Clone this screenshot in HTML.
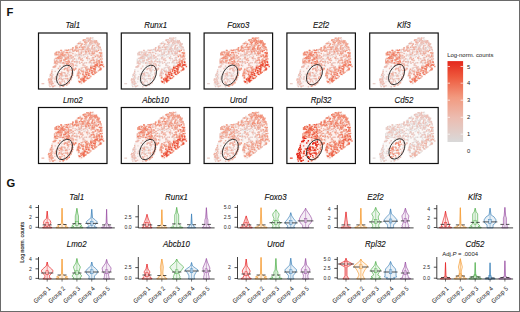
<!DOCTYPE html>
<html><head><meta charset="utf-8"><style>html,body{margin:0;padding:0;background:#fff;overflow:hidden;}svg{display:block;}</style></head>
<body>
<svg width="520" height="312" viewBox="0 0 520 312">
<defs>
<path id="blob" d="M16.2,23.0C16.4,21.4 16.4,20.3 16.8,19.4C17.2,18.5 17.7,18.2 18.8,17.8C19.9,17.4 21.9,17.3 23.5,17.2C25.1,17.1 26.9,17.2 28.3,17.0C29.7,16.8 30.9,16.5 32.0,16.0C33.1,15.5 34.2,14.5 35.1,13.8C36.0,13.1 36.1,12.7 37.3,11.8C38.5,10.9 40.5,9.4 42.1,8.4C43.7,7.4 45.5,6.3 46.9,5.6C48.3,4.9 49.4,4.3 50.7,4.2C52.0,4.1 53.5,4.2 54.6,4.7C55.7,5.2 56.5,6.1 57.5,7.0C58.5,7.9 59.6,8.8 60.4,10.0C61.2,11.2 61.8,12.5 62.3,13.9C62.8,15.3 63.0,16.9 63.2,18.7C63.5,20.5 63.6,22.8 63.8,24.5C64.0,26.2 64.4,27.4 64.6,28.8C64.8,30.2 65.4,31.5 65.2,32.8C65.0,34.0 64.8,35.1 63.6,36.3C62.4,37.5 59.8,38.8 58.0,40.0C56.2,41.2 54.6,42.4 53.0,43.6C51.4,44.8 49.8,46.1 48.5,47.2C47.2,48.3 46.0,49.4 45.0,50.2C44.0,51.0 43.4,51.9 42.6,52.0C41.8,52.1 40.9,51.8 40.3,51.0C39.7,50.2 39.2,48.5 38.8,47.0C38.4,45.5 38.2,43.4 38.0,42.0C37.8,40.6 37.9,39.4 37.6,38.5C37.3,37.6 36.8,36.4 36.4,36.6C36.0,36.9 35.6,38.6 35.2,40.0C34.8,41.4 34.5,43.3 33.8,45.0C33.1,46.7 32.2,48.6 31.0,50.0C29.8,51.4 28.2,52.5 26.5,53.2C24.8,53.9 22.5,54.1 20.5,54.2C18.5,54.3 16.1,54.1 14.4,54.0C12.7,53.9 11.3,54.0 10.4,53.4C9.5,52.8 9.1,51.9 9.2,50.3C9.3,48.7 10.2,46.4 11.0,44.0C11.8,41.6 13.1,38.5 13.8,36.0C14.5,33.5 15.0,31.2 15.4,29.0C15.8,26.8 16.0,24.6 16.2,23.0Z"/>
<path id="p_CEN_0" d="M40.8,22.9h1.4v1.4h-1.4zM44.4,21.7h1.4v1.4h-1.4zM37.7,32.6h1.4v1.4h-1.4zM32.2,28.0h1.4v1.4h-1.4zM30.5,29.2h1.4v1.4h-1.4zM36.5,21.9h1.4v1.4h-1.4zM35.8,27.9h1.4v1.4h-1.4zM44.1,26.7h1.4v1.4h-1.4zM36.9,27.5h1.4v1.4h-1.4zM37.6,27.1h1.4v1.4h-1.4zM41.9,20.2h1.4v1.4h-1.4zM46.1,22.7h1.4v1.4h-1.4zM37.4,25.5h1.4v1.4h-1.4zM40.7,29.5h1.4v1.4h-1.4zM38.3,22.4h1.4v1.4h-1.4zM39.3,21.5h1.4v1.4h-1.4zM38.0,31.7h1.4v1.4h-1.4zM40.8,22.5h1.4v1.4h-1.4zM31.0,31.2h1.4v1.4h-1.4zM37.7,29.7h1.4v1.4h-1.4zM29.7,32.4h1.4v1.4h-1.4zM41.2,21.3h1.4v1.4h-1.4zM41.1,18.9h1.4v1.4h-1.4zM49.5,24.7h1.4v1.4h-1.4zM50.8,28.1h1.4v1.4h-1.4zM38.4,28.7h1.4v1.4h-1.4zM30.5,28.9h1.4v1.4h-1.4zM50.0,29.1h1.4v1.4h-1.4zM49.6,20.1h1.4v1.4h-1.4zM31.9,30.0h1.4v1.4h-1.4zM49.6,20.1h1.4v1.4h-1.4zM39.8,23.8h1.4v1.4h-1.4z"/>
<path id="p_CEN_1" d="M51.6,32.1h1.4v1.4h-1.4zM47.6,33.2h1.4v1.4h-1.4zM52.1,30.0h1.4v1.4h-1.4zM45.0,29.7h1.4v1.4h-1.4zM33.9,32.6h1.4v1.4h-1.4zM31.2,23.8h1.4v1.4h-1.4zM41.1,24.4h1.4v1.4h-1.4zM50.6,19.3h1.4v1.4h-1.4zM31.2,25.0h1.4v1.4h-1.4zM36.0,20.4h1.4v1.4h-1.4zM32.2,32.1h1.4v1.4h-1.4zM31.6,24.2h1.4v1.4h-1.4zM48.4,26.3h1.4v1.4h-1.4zM48.0,21.2h1.4v1.4h-1.4zM34.0,30.8h1.4v1.4h-1.4zM42.5,22.0h1.4v1.4h-1.4zM37.3,29.2h1.4v1.4h-1.4zM45.7,29.1h1.4v1.4h-1.4zM50.2,28.8h1.4v1.4h-1.4zM33.6,25.5h1.4v1.4h-1.4zM44.9,23.4h1.4v1.4h-1.4zM34.1,26.3h1.4v1.4h-1.4zM40.8,20.8h1.4v1.4h-1.4zM35.1,25.2h1.4v1.4h-1.4zM47.2,18.9h1.4v1.4h-1.4zM43.9,30.0h1.4v1.4h-1.4zM39.3,21.0h1.4v1.4h-1.4z"/>
<path id="p_CEN_2" d="M40.6,29.6h1.4v1.4h-1.4zM47.3,29.1h1.4v1.4h-1.4zM39.6,19.3h1.4v1.4h-1.4zM50.7,28.5h1.4v1.4h-1.4zM35.9,22.2h1.4v1.4h-1.4zM44.2,21.0h1.4v1.4h-1.4zM44.7,31.5h1.4v1.4h-1.4zM39.4,25.0h1.4v1.4h-1.4zM50.3,25.1h1.4v1.4h-1.4zM31.8,18.9h1.4v1.4h-1.4zM45.8,20.6h1.4v1.4h-1.4zM48.3,24.5h1.4v1.4h-1.4zM31.8,30.3h1.4v1.4h-1.4zM47.6,19.2h1.4v1.4h-1.4zM48.6,22.8h1.4v1.4h-1.4zM46.6,19.1h1.4v1.4h-1.4zM40.8,20.6h1.4v1.4h-1.4zM51.2,26.8h1.4v1.4h-1.4zM46.0,32.3h1.4v1.4h-1.4zM33.8,32.7h1.4v1.4h-1.4zM33.7,23.5h1.4v1.4h-1.4zM37.5,21.2h1.4v1.4h-1.4zM49.9,18.5h1.4v1.4h-1.4zM46.6,20.0h1.4v1.4h-1.4zM43.8,31.6h1.4v1.4h-1.4zM44.1,30.5h1.4v1.4h-1.4z"/>
<path id="p_CEN_3" d="M33.4,30.9h1.4v1.4h-1.4zM31.6,21.5h1.4v1.4h-1.4zM36.7,31.5h1.4v1.4h-1.4zM33.5,30.0h1.4v1.4h-1.4zM40.2,20.9h1.4v1.4h-1.4zM43.0,24.8h1.4v1.4h-1.4zM42.6,28.7h1.4v1.4h-1.4zM35.8,28.2h1.4v1.4h-1.4zM34.4,31.6h1.4v1.4h-1.4zM32.5,24.3h1.4v1.4h-1.4zM31.5,22.4h1.4v1.4h-1.4zM42.2,18.3h1.4v1.4h-1.4zM51.7,32.8h1.4v1.4h-1.4zM40.5,24.0h1.4v1.4h-1.4zM40.1,28.2h1.4v1.4h-1.4zM35.5,25.2h1.4v1.4h-1.4zM47.8,24.6h1.4v1.4h-1.4zM42.0,26.3h1.4v1.4h-1.4zM40.0,23.6h1.4v1.4h-1.4zM42.0,25.9h1.4v1.4h-1.4zM30.5,18.8h1.4v1.4h-1.4zM33.4,27.2h1.4v1.4h-1.4zM37.8,28.1h1.4v1.4h-1.4zM32.8,27.8h1.4v1.4h-1.4zM47.4,24.0h1.4v1.4h-1.4zM35.1,28.2h1.4v1.4h-1.4zM50.4,20.1h1.4v1.4h-1.4zM51.0,28.3h1.4v1.4h-1.4zM41.3,25.8h1.4v1.4h-1.4zM31.7,29.8h1.4v1.4h-1.4zM43.5,26.8h1.4v1.4h-1.4zM52.0,21.6h1.4v1.4h-1.4zM33.7,19.9h1.4v1.4h-1.4zM34.1,23.2h1.4v1.4h-1.4zM32.4,22.1h1.4v1.4h-1.4zM35.1,28.1h1.4v1.4h-1.4zM42.2,19.8h1.4v1.4h-1.4zM32.1,32.0h1.4v1.4h-1.4z"/>
<path id="p_ELL_0" d="M28.1,48.3h1.4v1.4h-1.4zM22.7,45.4h1.4v1.4h-1.4zM25.8,39.9h1.4v1.4h-1.4zM22.7,40.2h1.4v1.4h-1.4zM25.4,44.9h1.4v1.4h-1.4zM27.7,41.6h1.4v1.4h-1.4zM22.7,35.7h1.4v1.4h-1.4zM19.0,41.9h1.4v1.4h-1.4zM25.5,35.0h1.4v1.4h-1.4zM21.4,40.4h1.4v1.4h-1.4zM25.3,40.2h1.4v1.4h-1.4zM21.8,44.8h1.4v1.4h-1.4zM27.7,35.0h1.4v1.4h-1.4zM25.3,35.5h1.4v1.4h-1.4zM22.8,38.9h1.4v1.4h-1.4zM29.4,45.6h1.4v1.4h-1.4zM19.5,45.9h1.4v1.4h-1.4zM21.9,45.9h1.4v1.4h-1.4zM24.9,41.9h1.4v1.4h-1.4zM23.2,42.3h1.4v1.4h-1.4zM28.4,39.9h1.4v1.4h-1.4zM24.0,42.2h1.4v1.4h-1.4zM26.8,42.2h1.4v1.4h-1.4zM29.5,38.2h1.4v1.4h-1.4zM21.0,41.7h1.4v1.4h-1.4z"/>
<path id="p_ELL_1" d="M22.3,38.3h1.4v1.4h-1.4zM22.0,40.9h1.4v1.4h-1.4zM28.0,45.0h1.4v1.4h-1.4zM28.2,42.1h1.4v1.4h-1.4zM24.3,45.3h1.4v1.4h-1.4zM22.5,42.8h1.4v1.4h-1.4zM23.0,46.0h1.4v1.4h-1.4zM25.9,39.3h1.4v1.4h-1.4zM26.0,39.5h1.4v1.4h-1.4zM25.6,49.0h1.4v1.4h-1.4zM30.1,41.2h1.4v1.4h-1.4zM28.0,42.6h1.4v1.4h-1.4zM17.9,47.2h1.4v1.4h-1.4zM28.6,39.4h1.4v1.4h-1.4zM31.0,36.0h1.4v1.4h-1.4zM28.9,36.9h1.4v1.4h-1.4zM23.0,38.8h1.4v1.4h-1.4zM21.4,49.4h1.4v1.4h-1.4zM21.7,43.7h1.4v1.4h-1.4zM26.8,45.0h1.4v1.4h-1.4zM18.5,41.2h1.4v1.4h-1.4zM28.2,33.8h1.4v1.4h-1.4z"/>
<path id="p_ELL_2" d="M26.5,34.7h1.4v1.4h-1.4zM26.8,41.3h1.4v1.4h-1.4zM21.2,49.5h1.4v1.4h-1.4zM28.4,35.8h1.4v1.4h-1.4zM29.1,37.9h1.4v1.4h-1.4zM29.6,36.5h1.4v1.4h-1.4zM26.6,44.7h1.4v1.4h-1.4zM27.1,42.0h1.4v1.4h-1.4zM18.7,40.5h1.4v1.4h-1.4zM21.5,40.5h1.4v1.4h-1.4zM20.3,48.6h1.4v1.4h-1.4zM28.3,36.7h1.4v1.4h-1.4zM19.4,45.9h1.4v1.4h-1.4zM22.1,45.0h1.4v1.4h-1.4zM28.5,46.6h1.4v1.4h-1.4zM20.1,49.4h1.4v1.4h-1.4zM22.8,48.1h1.4v1.4h-1.4z"/>
<path id="p_ELL_3" d="M20.2,44.5h1.4v1.4h-1.4zM21.6,40.0h1.4v1.4h-1.4zM28.4,44.8h1.4v1.4h-1.4zM24.8,38.9h1.4v1.4h-1.4zM20.6,39.9h1.4v1.4h-1.4zM29.8,33.1h1.4v1.4h-1.4zM22.1,41.4h1.4v1.4h-1.4zM22.8,41.4h1.4v1.4h-1.4zM25.0,47.4h1.4v1.4h-1.4zM25.1,35.8h1.4v1.4h-1.4zM23.2,46.2h1.4v1.4h-1.4zM26.1,34.8h1.4v1.4h-1.4zM20.7,48.4h1.4v1.4h-1.4zM26.4,42.4h1.4v1.4h-1.4zM22.4,39.5h1.4v1.4h-1.4zM28.2,36.8h1.4v1.4h-1.4zM20.4,42.4h1.4v1.4h-1.4zM22.4,40.8h1.4v1.4h-1.4zM21.5,50.1h1.4v1.4h-1.4zM25.3,35.2h1.4v1.4h-1.4zM27.9,35.1h1.4v1.4h-1.4zM29.8,34.0h1.4v1.4h-1.4z"/>
<path id="p_LT_0" d="M15.6,48.2h1.4v1.4h-1.4zM12.2,46.8h1.4v1.4h-1.4zM14.5,52.4h1.4v1.4h-1.4zM16.9,43.3h1.4v1.4h-1.4zM10.7,42.8h1.4v1.4h-1.4zM13.0,41.7h1.4v1.4h-1.4zM13.2,52.3h1.4v1.4h-1.4zM12.4,47.5h1.4v1.4h-1.4zM12.9,38.6h1.4v1.4h-1.4zM13.7,43.9h1.4v1.4h-1.4zM17.6,40.7h1.4v1.4h-1.4zM11.8,44.8h1.4v1.4h-1.4zM12.9,35.9h1.4v1.4h-1.4zM12.8,48.0h1.4v1.4h-1.4zM20.5,33.4h1.4v1.4h-1.4zM10.3,49.9h1.4v1.4h-1.4zM11.2,40.8h1.4v1.4h-1.4z"/>
<path id="p_LT_1" d="M13.5,44.9h1.4v1.4h-1.4zM10.9,50.1h1.4v1.4h-1.4zM15.5,33.7h1.4v1.4h-1.4zM16.8,45.3h1.4v1.4h-1.4zM12.5,51.5h1.4v1.4h-1.4zM16.0,37.7h1.4v1.4h-1.4zM11.4,41.6h1.4v1.4h-1.4zM16.1,43.9h1.4v1.4h-1.4zM12.7,39.6h1.4v1.4h-1.4zM11.5,45.9h1.4v1.4h-1.4zM10.3,51.4h1.4v1.4h-1.4zM12.5,50.4h1.4v1.4h-1.4zM13.7,41.1h1.4v1.4h-1.4z"/>
<path id="p_LT_2" d="M15.8,45.3h1.4v1.4h-1.4zM15.4,29.5h1.4v1.4h-1.4zM16.3,29.5h1.4v1.4h-1.4zM14.1,33.5h1.4v1.4h-1.4zM16.6,43.0h1.4v1.4h-1.4zM10.8,52.9h1.4v1.4h-1.4zM15.8,32.1h1.4v1.4h-1.4zM13.1,49.3h1.4v1.4h-1.4zM10.5,48.6h1.4v1.4h-1.4zM14.0,49.8h1.4v1.4h-1.4zM12.4,41.5h1.4v1.4h-1.4zM15.7,32.9h1.4v1.4h-1.4zM9.7,45.3h1.4v1.4h-1.4zM13.3,52.9h1.4v1.4h-1.4zM13.7,53.1h1.4v1.4h-1.4zM16.6,29.9h1.4v1.4h-1.4zM15.3,29.5h1.4v1.4h-1.4zM11.7,49.0h1.4v1.4h-1.4zM10.1,47.5h1.4v1.4h-1.4zM15.6,52.0h1.4v1.4h-1.4zM20.8,53.0h1.4v1.4h-1.4z"/>
<path id="p_LT_3" d="M10.4,49.1h1.4v1.4h-1.4zM19.2,34.8h1.4v1.4h-1.4zM12.2,46.0h1.4v1.4h-1.4zM10.1,48.5h1.4v1.4h-1.4zM11.1,47.4h1.4v1.4h-1.4zM9.3,46.4h1.4v1.4h-1.4zM10.6,45.4h1.4v1.4h-1.4zM9.8,45.6h1.4v1.4h-1.4zM20.8,32.4h1.4v1.4h-1.4zM15.2,33.1h1.4v1.4h-1.4zM14.3,33.2h1.4v1.4h-1.4zM12.2,39.6h1.4v1.4h-1.4zM11.9,44.4h1.4v1.4h-1.4zM18.2,30.2h1.4v1.4h-1.4zM12.8,43.1h1.4v1.4h-1.4zM14.0,52.7h1.4v1.4h-1.4zM16.7,32.2h1.4v1.4h-1.4zM12.7,37.5h1.4v1.4h-1.4zM11.3,41.3h1.4v1.4h-1.4zM16.8,30.0h1.4v1.4h-1.4zM12.7,47.7h1.4v1.4h-1.4zM12.1,50.7h1.4v1.4h-1.4zM13.0,49.8h1.4v1.4h-1.4zM16.0,32.9h1.4v1.4h-1.4z"/>
<path id="p_RE_0" d="M57.1,17.4h1.4v1.4h-1.4zM62.7,21.3h1.4v1.4h-1.4zM59.8,28.1h1.4v1.4h-1.4zM62.5,28.1h1.4v1.4h-1.4zM61.3,19.4h1.4v1.4h-1.4zM58.5,26.3h1.4v1.4h-1.4zM61.2,20.2h1.4v1.4h-1.4zM62.0,17.1h1.4v1.4h-1.4zM60.6,25.5h1.4v1.4h-1.4zM57.2,27.6h1.4v1.4h-1.4zM57.4,27.9h1.4v1.4h-1.4zM55.5,21.4h1.4v1.4h-1.4zM57.8,25.2h1.4v1.4h-1.4zM58.8,24.2h1.4v1.4h-1.4zM56.0,17.7h1.4v1.4h-1.4zM61.8,21.3h1.4v1.4h-1.4zM58.0,27.3h1.4v1.4h-1.4zM62.1,26.8h1.4v1.4h-1.4z"/>
<path id="p_RE_1" d="M57.4,16.8h1.4v1.4h-1.4zM62.5,23.0h1.4v1.4h-1.4zM57.3,25.9h1.4v1.4h-1.4zM58.3,22.6h1.4v1.4h-1.4zM62.6,22.4h1.4v1.4h-1.4zM57.3,21.3h1.4v1.4h-1.4zM61.6,20.6h1.4v1.4h-1.4zM59.1,22.8h1.4v1.4h-1.4zM57.3,29.0h1.4v1.4h-1.4zM59.9,28.2h1.4v1.4h-1.4zM55.4,29.3h1.4v1.4h-1.4z"/>
<path id="p_RE_2" d="M59.3,26.9h1.4v1.4h-1.4zM57.5,27.6h1.4v1.4h-1.4zM62.6,28.0h1.4v1.4h-1.4zM63.0,25.2h1.4v1.4h-1.4zM56.8,28.8h1.4v1.4h-1.4zM60.0,26.9h1.4v1.4h-1.4zM61.8,23.2h1.4v1.4h-1.4zM60.1,23.6h1.4v1.4h-1.4z"/>
<path id="p_RE_3" d="M55.7,17.2h1.4v1.4h-1.4zM61.3,21.7h1.4v1.4h-1.4zM61.0,22.5h1.4v1.4h-1.4zM59.3,16.6h1.4v1.4h-1.4zM60.1,27.1h1.4v1.4h-1.4zM60.7,19.1h1.4v1.4h-1.4zM56.3,22.8h1.4v1.4h-1.4zM61.5,25.4h1.4v1.4h-1.4zM60.2,19.2h1.4v1.4h-1.4zM61.9,19.5h1.4v1.4h-1.4zM57.8,28.4h1.4v1.4h-1.4zM57.8,17.8h1.4v1.4h-1.4zM62.3,27.9h1.4v1.4h-1.4zM59.7,26.9h1.4v1.4h-1.4zM62.5,19.3h1.4v1.4h-1.4zM58.7,21.4h1.4v1.4h-1.4z"/>
<path id="p_RL_0" d="M53.4,38.6h1.4v1.4h-1.4zM54.8,40.8h1.4v1.4h-1.4zM63.7,30.7h1.4v1.4h-1.4zM49.3,35.7h1.4v1.4h-1.4zM46.9,38.4h1.4v1.4h-1.4zM43.3,45.2h1.4v1.4h-1.4zM49.8,44.7h1.4v1.4h-1.4zM40.9,48.2h1.4v1.4h-1.4zM58.7,30.7h1.4v1.4h-1.4zM45.0,44.8h1.4v1.4h-1.4zM39.4,43.8h1.4v1.4h-1.4zM44.0,43.2h1.4v1.4h-1.4zM59.2,37.1h1.4v1.4h-1.4zM52.0,39.3h1.4v1.4h-1.4zM54.4,32.6h1.4v1.4h-1.4zM42.9,44.2h1.4v1.4h-1.4zM56.8,33.9h1.4v1.4h-1.4zM48.3,37.2h1.4v1.4h-1.4zM43.3,44.5h1.4v1.4h-1.4zM59.2,32.9h1.4v1.4h-1.4zM53.2,38.2h1.4v1.4h-1.4zM60.6,31.2h1.4v1.4h-1.4zM50.9,35.4h1.4v1.4h-1.4zM45.6,44.3h1.4v1.4h-1.4zM49.6,41.3h1.4v1.4h-1.4zM44.9,48.0h1.4v1.4h-1.4zM39.5,44.3h1.4v1.4h-1.4zM58.9,30.1h1.4v1.4h-1.4zM60.0,33.5h1.4v1.4h-1.4zM55.9,39.6h1.4v1.4h-1.4zM61.2,31.4h1.4v1.4h-1.4zM61.5,34.5h1.4v1.4h-1.4zM48.8,40.5h1.4v1.4h-1.4zM57.4,32.2h1.4v1.4h-1.4zM50.5,44.0h1.4v1.4h-1.4zM48.9,41.2h1.4v1.4h-1.4zM42.3,49.3h1.4v1.4h-1.4zM53.5,37.5h1.4v1.4h-1.4zM57.4,32.1h1.4v1.4h-1.4zM46.9,41.0h1.4v1.4h-1.4zM46.6,39.4h1.4v1.4h-1.4zM41.5,45.2h1.4v1.4h-1.4z"/>
<path id="p_RL_1" d="M57.4,38.5h1.4v1.4h-1.4zM44.8,42.1h1.4v1.4h-1.4zM44.7,48.3h1.4v1.4h-1.4zM52.1,33.9h1.4v1.4h-1.4zM58.6,32.4h1.4v1.4h-1.4zM51.6,42.9h1.4v1.4h-1.4zM56.3,39.3h1.4v1.4h-1.4zM59.6,28.4h1.4v1.4h-1.4zM53.4,40.4h1.4v1.4h-1.4zM60.3,36.4h1.4v1.4h-1.4zM57.6,32.0h1.4v1.4h-1.4zM39.6,47.6h1.4v1.4h-1.4zM50.4,41.8h1.4v1.4h-1.4zM48.1,44.2h1.4v1.4h-1.4zM61.5,36.2h1.4v1.4h-1.4zM54.8,37.6h1.4v1.4h-1.4zM51.6,42.7h1.4v1.4h-1.4zM45.3,42.6h1.4v1.4h-1.4zM43.8,41.0h1.4v1.4h-1.4zM53.3,34.4h1.4v1.4h-1.4zM46.2,40.8h1.4v1.4h-1.4zM53.8,33.1h1.4v1.4h-1.4zM39.8,43.9h1.4v1.4h-1.4zM53.0,33.3h1.4v1.4h-1.4zM47.4,44.7h1.4v1.4h-1.4zM53.8,33.0h1.4v1.4h-1.4zM47.0,39.2h1.4v1.4h-1.4zM45.1,45.8h1.4v1.4h-1.4zM50.6,35.7h1.4v1.4h-1.4zM48.5,38.2h1.4v1.4h-1.4zM60.5,29.8h1.4v1.4h-1.4zM42.3,45.2h1.4v1.4h-1.4zM46.9,39.1h1.4v1.4h-1.4zM46.8,46.5h1.4v1.4h-1.4zM53.9,37.2h1.4v1.4h-1.4zM48.6,39.2h1.4v1.4h-1.4zM61.2,34.3h1.4v1.4h-1.4zM59.9,32.8h1.4v1.4h-1.4z"/>
<path id="p_RL_2" d="M60.5,28.4h1.4v1.4h-1.4zM60.6,32.0h1.4v1.4h-1.4zM55.6,39.0h1.4v1.4h-1.4zM50.8,36.5h1.4v1.4h-1.4zM55.8,31.3h1.4v1.4h-1.4zM51.8,34.4h1.4v1.4h-1.4zM46.3,38.3h1.4v1.4h-1.4zM61.9,30.9h1.4v1.4h-1.4zM40.3,48.4h1.4v1.4h-1.4zM64.4,32.8h1.4v1.4h-1.4zM44.1,45.2h1.4v1.4h-1.4zM47.7,43.2h1.4v1.4h-1.4zM44.4,45.4h1.4v1.4h-1.4zM56.0,34.0h1.4v1.4h-1.4zM56.1,32.8h1.4v1.4h-1.4zM56.0,31.9h1.4v1.4h-1.4zM60.6,35.8h1.4v1.4h-1.4zM43.7,44.9h1.4v1.4h-1.4zM58.1,30.3h1.4v1.4h-1.4zM52.2,35.2h1.4v1.4h-1.4zM42.3,47.2h1.4v1.4h-1.4zM57.1,31.2h1.4v1.4h-1.4zM55.7,37.8h1.4v1.4h-1.4zM44.9,44.2h1.4v1.4h-1.4zM57.9,30.0h1.4v1.4h-1.4zM48.1,38.9h1.4v1.4h-1.4zM55.1,35.3h1.4v1.4h-1.4zM46.6,39.2h1.4v1.4h-1.4zM55.8,35.7h1.4v1.4h-1.4zM50.5,37.5h1.4v1.4h-1.4zM55.8,37.1h1.4v1.4h-1.4z"/>
<path id="p_RL_3" d="M46.1,43.1h1.4v1.4h-1.4zM61.7,35.3h1.4v1.4h-1.4zM43.7,40.5h1.4v1.4h-1.4zM55.2,32.7h1.4v1.4h-1.4zM54.4,35.1h1.4v1.4h-1.4zM53.8,40.7h1.4v1.4h-1.4zM44.3,47.6h1.4v1.4h-1.4zM44.4,44.9h1.4v1.4h-1.4zM52.6,37.1h1.4v1.4h-1.4zM45.5,43.3h1.4v1.4h-1.4zM48.7,44.8h1.4v1.4h-1.4zM61.6,35.2h1.4v1.4h-1.4zM52.8,39.1h1.4v1.4h-1.4zM40.6,48.1h1.4v1.4h-1.4zM44.3,46.3h1.4v1.4h-1.4zM63.0,31.6h1.4v1.4h-1.4zM57.9,31.6h1.4v1.4h-1.4zM61.0,31.6h1.4v1.4h-1.4zM44.5,45.3h1.4v1.4h-1.4zM43.6,46.3h1.4v1.4h-1.4zM41.8,45.8h1.4v1.4h-1.4zM62.7,28.7h1.4v1.4h-1.4zM55.9,35.4h1.4v1.4h-1.4zM56.7,31.2h1.4v1.4h-1.4zM47.4,41.1h1.4v1.4h-1.4zM45.7,47.0h1.4v1.4h-1.4zM51.6,33.8h1.4v1.4h-1.4zM49.5,41.6h1.4v1.4h-1.4zM62.7,28.9h1.4v1.4h-1.4zM49.8,39.7h1.4v1.4h-1.4zM62.2,30.9h1.4v1.4h-1.4z"/>
<path id="p_TR_0" d="M55.3,8.7h1.4v1.4h-1.4zM51.9,9.0h1.4v1.4h-1.4zM49.3,11.1h1.4v1.4h-1.4zM54.8,15.7h1.4v1.4h-1.4zM50.3,15.6h1.4v1.4h-1.4zM61.0,14.1h1.4v1.4h-1.4zM51.0,15.2h1.4v1.4h-1.4zM50.1,12.7h1.4v1.4h-1.4zM51.5,7.6h1.4v1.4h-1.4zM48.9,12.4h1.4v1.4h-1.4zM52.1,10.5h1.4v1.4h-1.4zM48.6,4.4h1.4v1.4h-1.4zM46.5,15.5h1.4v1.4h-1.4zM53.7,4.1h1.4v1.4h-1.4zM51.2,7.0h1.4v1.4h-1.4zM57.0,15.7h1.4v1.4h-1.4zM60.5,13.1h1.4v1.4h-1.4zM48.5,5.5h1.4v1.4h-1.4zM55.3,8.0h1.4v1.4h-1.4zM49.0,5.6h1.4v1.4h-1.4zM53.7,6.3h1.4v1.4h-1.4zM55.8,14.5h1.4v1.4h-1.4zM57.5,13.3h1.4v1.4h-1.4zM53.2,14.3h1.4v1.4h-1.4zM52.3,7.8h1.4v1.4h-1.4zM53.5,14.1h1.4v1.4h-1.4zM54.0,9.9h1.4v1.4h-1.4zM55.1,14.9h1.4v1.4h-1.4z"/>
<path id="p_TR_1" d="M51.2,10.2h1.4v1.4h-1.4zM46.6,11.9h1.4v1.4h-1.4zM52.9,13.8h1.4v1.4h-1.4zM58.6,14.4h1.4v1.4h-1.4zM50.3,11.1h1.4v1.4h-1.4zM56.6,16.2h1.4v1.4h-1.4zM51.3,7.8h1.4v1.4h-1.4zM48.2,7.1h1.4v1.4h-1.4zM55.7,8.9h1.4v1.4h-1.4zM47.2,10.8h1.4v1.4h-1.4zM59.7,10.9h1.4v1.4h-1.4zM55.2,8.7h1.4v1.4h-1.4zM46.9,7.0h1.4v1.4h-1.4zM58.3,8.6h1.4v1.4h-1.4zM57.1,12.8h1.4v1.4h-1.4zM50.8,10.3h1.4v1.4h-1.4zM55.0,11.9h1.4v1.4h-1.4zM54.2,15.3h1.4v1.4h-1.4zM48.1,12.5h1.4v1.4h-1.4zM49.3,5.1h1.4v1.4h-1.4zM56.5,7.6h1.4v1.4h-1.4zM53.0,15.4h1.4v1.4h-1.4zM49.7,6.2h1.4v1.4h-1.4zM46.5,10.7h1.4v1.4h-1.4zM49.3,13.8h1.4v1.4h-1.4zM59.6,12.9h1.4v1.4h-1.4zM54.8,16.1h1.4v1.4h-1.4zM57.8,13.4h1.4v1.4h-1.4zM52.4,7.7h1.4v1.4h-1.4z"/>
<path id="p_TR_2" d="M54.6,11.7h1.4v1.4h-1.4zM52.8,7.8h1.4v1.4h-1.4zM61.9,15.8h1.4v1.4h-1.4zM54.8,15.5h1.4v1.4h-1.4zM50.0,5.7h1.4v1.4h-1.4zM52.8,4.4h1.4v1.4h-1.4zM49.6,6.7h1.4v1.4h-1.4zM60.2,13.6h1.4v1.4h-1.4zM50.8,6.8h1.4v1.4h-1.4zM58.6,9.7h1.4v1.4h-1.4zM51.4,11.1h1.4v1.4h-1.4zM57.8,11.0h1.4v1.4h-1.4zM49.2,4.6h1.4v1.4h-1.4zM50.3,15.7h1.4v1.4h-1.4zM49.8,5.7h1.4v1.4h-1.4zM59.0,10.7h1.4v1.4h-1.4zM60.2,10.1h1.4v1.4h-1.4zM61.0,15.5h1.4v1.4h-1.4zM55.7,7.0h1.4v1.4h-1.4zM55.9,10.2h1.4v1.4h-1.4zM59.8,10.5h1.4v1.4h-1.4zM46.6,6.1h1.4v1.4h-1.4zM59.5,14.4h1.4v1.4h-1.4zM53.8,7.2h1.4v1.4h-1.4zM49.1,5.2h1.4v1.4h-1.4zM56.0,9.2h1.4v1.4h-1.4zM49.8,12.0h1.4v1.4h-1.4zM49.4,15.6h1.4v1.4h-1.4zM49.2,13.5h1.4v1.4h-1.4zM50.7,9.8h1.4v1.4h-1.4z"/>
<path id="p_TR_3" d="M59.1,12.7h1.4v1.4h-1.4zM48.1,14.3h1.4v1.4h-1.4zM56.0,8.5h1.4v1.4h-1.4zM52.7,14.4h1.4v1.4h-1.4zM51.2,4.3h1.4v1.4h-1.4zM59.2,11.1h1.4v1.4h-1.4zM49.8,15.2h1.4v1.4h-1.4zM57.3,7.0h1.4v1.4h-1.4zM51.5,8.7h1.4v1.4h-1.4zM52.8,9.6h1.4v1.4h-1.4zM47.0,8.6h1.4v1.4h-1.4zM46.6,9.8h1.4v1.4h-1.4zM61.1,13.8h1.4v1.4h-1.4zM50.9,5.5h1.4v1.4h-1.4zM48.3,15.9h1.4v1.4h-1.4zM47.9,15.2h1.4v1.4h-1.4zM53.2,13.2h1.4v1.4h-1.4zM49.2,7.6h1.4v1.4h-1.4zM53.9,8.2h1.4v1.4h-1.4zM51.8,7.0h1.4v1.4h-1.4zM47.7,4.5h1.4v1.4h-1.4zM55.4,8.7h1.4v1.4h-1.4zM50.5,9.3h1.4v1.4h-1.4zM58.2,11.7h1.4v1.4h-1.4zM49.5,7.2h1.4v1.4h-1.4zM55.4,14.1h1.4v1.4h-1.4zM56.7,9.1h1.4v1.4h-1.4zM57.1,8.0h1.4v1.4h-1.4zM47.7,16.0h1.4v1.4h-1.4zM48.9,14.2h1.4v1.4h-1.4zM58.3,9.5h1.4v1.4h-1.4zM47.7,8.8h1.4v1.4h-1.4zM53.4,11.8h1.4v1.4h-1.4zM52.9,15.3h1.4v1.4h-1.4zM55.6,7.6h1.4v1.4h-1.4z"/>
<path id="p_UB_0" d="M34.8,36.8h1.4v1.4h-1.4zM30.0,47.6h1.4v1.4h-1.4zM37.9,14.7h1.4v1.4h-1.4zM46.2,17.0h1.4v1.4h-1.4zM33.4,18.0h1.4v1.4h-1.4zM23.4,52.6h1.4v1.4h-1.4zM44.7,18.1h1.4v1.4h-1.4zM28.9,50.1h1.4v1.4h-1.4zM28.4,48.9h1.4v1.4h-1.4zM41.9,34.5h1.4v1.4h-1.4zM42.1,36.2h1.4v1.4h-1.4zM52.4,28.9h1.4v1.4h-1.4zM30.6,16.0h1.4v1.4h-1.4zM33.5,14.0h1.4v1.4h-1.4zM45.3,15.3h1.4v1.4h-1.4zM52.3,20.3h1.4v1.4h-1.4zM37.8,42.4h1.4v1.4h-1.4zM44.7,13.3h1.4v1.4h-1.4zM52.4,19.9h1.4v1.4h-1.4zM38.3,10.0h1.4v1.4h-1.4zM30.9,17.3h1.4v1.4h-1.4zM55.2,29.0h1.4v1.4h-1.4zM24.7,32.5h1.4v1.4h-1.4zM41.0,8.2h1.4v1.4h-1.4zM30.6,47.2h1.4v1.4h-1.4zM49.7,16.5h1.4v1.4h-1.4zM40.4,38.1h1.4v1.4h-1.4zM55.2,23.4h1.4v1.4h-1.4zM53.3,20.4h1.4v1.4h-1.4zM25.2,51.4h1.4v1.4h-1.4zM31.2,44.3h1.4v1.4h-1.4zM30.7,17.0h1.4v1.4h-1.4zM54.0,26.0h1.4v1.4h-1.4zM52.9,26.4h1.4v1.4h-1.4zM35.4,35.6h1.4v1.4h-1.4zM54.4,26.1h1.4v1.4h-1.4zM51.0,16.6h1.4v1.4h-1.4zM47.6,18.1h1.4v1.4h-1.4zM41.3,36.7h1.4v1.4h-1.4zM34.0,39.3h1.4v1.4h-1.4zM37.7,14.8h1.4v1.4h-1.4zM42.4,36.2h1.4v1.4h-1.4zM28.6,49.2h1.4v1.4h-1.4zM39.9,39.3h1.4v1.4h-1.4zM41.5,12.6h1.4v1.4h-1.4zM45.7,15.9h1.4v1.4h-1.4zM54.5,19.9h1.4v1.4h-1.4zM28.3,50.3h1.4v1.4h-1.4zM41.6,9.8h1.4v1.4h-1.4zM48.4,35.1h1.4v1.4h-1.4zM39.8,9.7h1.4v1.4h-1.4zM38.7,40.8h1.4v1.4h-1.4z"/>
<path id="p_UB_1" d="M55.0,17.1h1.4v1.4h-1.4zM42.9,10.0h1.4v1.4h-1.4zM41.3,15.8h1.4v1.4h-1.4zM43.6,37.7h1.4v1.4h-1.4zM36.9,12.2h1.4v1.4h-1.4zM25.1,51.9h1.4v1.4h-1.4zM31.9,45.0h1.4v1.4h-1.4zM43.7,18.2h1.4v1.4h-1.4zM36.3,35.2h1.4v1.4h-1.4zM46.7,35.7h1.4v1.4h-1.4zM43.8,15.3h1.4v1.4h-1.4zM33.7,34.6h1.4v1.4h-1.4zM44.3,36.6h1.4v1.4h-1.4zM49.0,34.8h1.4v1.4h-1.4zM53.2,19.5h1.4v1.4h-1.4zM39.9,15.7h1.4v1.4h-1.4zM52.8,31.8h1.4v1.4h-1.4zM35.0,17.2h1.4v1.4h-1.4zM37.8,12.0h1.4v1.4h-1.4zM37.1,16.3h1.4v1.4h-1.4zM49.2,17.5h1.4v1.4h-1.4zM43.8,33.7h1.4v1.4h-1.4zM48.9,17.0h1.4v1.4h-1.4zM55.2,18.9h1.4v1.4h-1.4zM52.9,24.4h1.4v1.4h-1.4zM46.5,34.0h1.4v1.4h-1.4zM35.2,36.0h1.4v1.4h-1.4zM41.8,13.4h1.4v1.4h-1.4zM46.2,16.5h1.4v1.4h-1.4zM45.4,33.6h1.4v1.4h-1.4zM36.2,35.4h1.4v1.4h-1.4zM53.7,26.2h1.4v1.4h-1.4zM43.7,14.0h1.4v1.4h-1.4zM36.6,14.3h1.4v1.4h-1.4zM53.9,29.4h1.4v1.4h-1.4zM37.5,14.7h1.4v1.4h-1.4zM46.4,37.4h1.4v1.4h-1.4zM37.8,17.4h1.4v1.4h-1.4zM51.0,16.6h1.4v1.4h-1.4zM27.8,51.2h1.4v1.4h-1.4zM49.2,35.1h1.4v1.4h-1.4zM32.6,40.4h1.4v1.4h-1.4zM38.9,17.4h1.4v1.4h-1.4zM45.0,13.1h1.4v1.4h-1.4zM32.9,39.0h1.4v1.4h-1.4zM38.5,14.5h1.4v1.4h-1.4zM42.5,15.7h1.4v1.4h-1.4zM22.9,51.3h1.4v1.4h-1.4zM38.3,40.0h1.4v1.4h-1.4zM44.1,14.8h1.4v1.4h-1.4zM53.4,18.4h1.4v1.4h-1.4zM46.1,13.8h1.4v1.4h-1.4zM33.7,35.4h1.4v1.4h-1.4zM34.3,34.5h1.4v1.4h-1.4zM42.3,17.3h1.4v1.4h-1.4zM45.9,13.1h1.4v1.4h-1.4zM40.4,40.2h1.4v1.4h-1.4zM44.9,7.4h1.4v1.4h-1.4z"/>
<path id="p_UB_2" d="M45.1,6.1h1.4v1.4h-1.4zM33.0,34.2h1.4v1.4h-1.4zM51.4,17.4h1.4v1.4h-1.4zM41.0,9.7h1.4v1.4h-1.4zM33.4,41.4h1.4v1.4h-1.4zM31.7,15.7h1.4v1.4h-1.4zM43.1,15.9h1.4v1.4h-1.4zM44.2,6.6h1.4v1.4h-1.4zM32.7,40.0h1.4v1.4h-1.4zM47.5,35.3h1.4v1.4h-1.4zM31.6,43.0h1.4v1.4h-1.4zM38.7,39.6h1.4v1.4h-1.4zM34.4,17.6h1.4v1.4h-1.4zM36.5,16.4h1.4v1.4h-1.4zM42.8,34.4h1.4v1.4h-1.4zM47.7,33.3h1.4v1.4h-1.4zM55.3,19.6h1.4v1.4h-1.4zM46.6,17.8h1.4v1.4h-1.4zM55.0,27.1h1.4v1.4h-1.4zM31.7,46.0h1.4v1.4h-1.4zM43.3,15.3h1.4v1.4h-1.4zM45.0,12.8h1.4v1.4h-1.4zM54.9,29.2h1.4v1.4h-1.4zM53.0,18.3h1.4v1.4h-1.4zM45.7,8.0h1.4v1.4h-1.4zM39.4,17.4h1.4v1.4h-1.4zM36.3,15.9h1.4v1.4h-1.4zM27.0,50.2h1.4v1.4h-1.4zM33.6,16.8h1.4v1.4h-1.4zM47.2,36.3h1.4v1.4h-1.4zM53.5,17.5h1.4v1.4h-1.4zM44.5,13.9h1.4v1.4h-1.4zM27.3,51.4h1.4v1.4h-1.4zM33.4,15.2h1.4v1.4h-1.4zM54.4,24.1h1.4v1.4h-1.4zM45.9,6.2h1.4v1.4h-1.4zM51.5,17.4h1.4v1.4h-1.4zM39.1,41.5h1.4v1.4h-1.4zM53.8,21.0h1.4v1.4h-1.4zM43.8,40.0h1.4v1.4h-1.4zM36.4,34.5h1.4v1.4h-1.4zM47.5,33.4h1.4v1.4h-1.4zM55.2,18.6h1.4v1.4h-1.4zM41.6,36.4h1.4v1.4h-1.4zM44.4,38.2h1.4v1.4h-1.4zM39.8,9.8h1.4v1.4h-1.4zM53.9,24.3h1.4v1.4h-1.4zM41.3,39.8h1.4v1.4h-1.4zM39.4,36.8h1.4v1.4h-1.4zM28.3,49.8h1.4v1.4h-1.4zM32.8,43.4h1.4v1.4h-1.4zM53.6,23.8h1.4v1.4h-1.4zM45.2,10.7h1.4v1.4h-1.4z"/>
<path id="p_UB_3" d="M48.0,36.0h1.4v1.4h-1.4zM35.1,36.3h1.4v1.4h-1.4zM53.1,19.6h1.4v1.4h-1.4zM33.2,16.0h1.4v1.4h-1.4zM54.9,28.8h1.4v1.4h-1.4zM36.5,35.0h1.4v1.4h-1.4zM36.6,13.0h1.4v1.4h-1.4zM30.1,49.0h1.4v1.4h-1.4zM31.1,44.5h1.4v1.4h-1.4zM45.8,8.6h1.4v1.4h-1.4zM36.7,14.3h1.4v1.4h-1.4zM33.3,15.8h1.4v1.4h-1.4zM47.5,36.9h1.4v1.4h-1.4zM44.2,6.5h1.4v1.4h-1.4zM38.1,41.5h1.4v1.4h-1.4zM37.9,13.7h1.4v1.4h-1.4zM42.7,37.8h1.4v1.4h-1.4zM40.0,35.6h1.4v1.4h-1.4zM48.5,35.9h1.4v1.4h-1.4zM39.4,9.8h1.4v1.4h-1.4zM49.4,17.6h1.4v1.4h-1.4zM54.3,19.7h1.4v1.4h-1.4zM46.5,34.3h1.4v1.4h-1.4zM42.6,13.4h1.4v1.4h-1.4zM38.8,16.4h1.4v1.4h-1.4zM32.7,36.9h1.4v1.4h-1.4zM39.2,39.5h1.4v1.4h-1.4zM39.8,42.4h1.4v1.4h-1.4zM46.8,18.1h1.4v1.4h-1.4zM39.1,38.2h1.4v1.4h-1.4zM39.4,42.3h1.4v1.4h-1.4zM41.9,11.7h1.4v1.4h-1.4zM37.4,17.5h1.4v1.4h-1.4zM54.3,26.3h1.4v1.4h-1.4zM33.3,41.4h1.4v1.4h-1.4zM43.9,15.8h1.4v1.4h-1.4zM44.1,38.3h1.4v1.4h-1.4zM40.3,13.6h1.4v1.4h-1.4zM39.8,38.8h1.4v1.4h-1.4zM52.4,26.8h1.4v1.4h-1.4zM43.3,13.6h1.4v1.4h-1.4zM33.8,14.1h1.4v1.4h-1.4zM24.1,52.6h1.4v1.4h-1.4zM39.3,41.8h1.4v1.4h-1.4zM34.0,35.5h1.4v1.4h-1.4zM42.6,37.3h1.4v1.4h-1.4zM42.7,10.5h1.4v1.4h-1.4zM35.6,16.6h1.4v1.4h-1.4z"/>
<path id="p_UL_0" d="M30.1,23.0h1.4v1.4h-1.4zM16.7,20.0h1.4v1.4h-1.4zM27.4,21.2h1.4v1.4h-1.4zM27.6,30.8h1.4v1.4h-1.4zM17.6,20.3h1.4v1.4h-1.4zM24.3,26.2h1.4v1.4h-1.4zM19.0,28.5h1.4v1.4h-1.4zM25.7,16.6h1.4v1.4h-1.4zM28.8,28.5h1.4v1.4h-1.4zM17.7,26.9h1.4v1.4h-1.4zM25.8,24.3h1.4v1.4h-1.4zM16.6,19.4h1.4v1.4h-1.4zM19.3,22.5h1.4v1.4h-1.4zM23.2,23.1h1.4v1.4h-1.4zM22.0,24.5h1.4v1.4h-1.4zM15.4,27.9h1.4v1.4h-1.4zM15.4,25.6h1.4v1.4h-1.4zM22.8,23.7h1.4v1.4h-1.4zM28.4,29.9h1.4v1.4h-1.4zM20.5,25.8h1.4v1.4h-1.4zM25.3,22.6h1.4v1.4h-1.4zM24.9,22.1h1.4v1.4h-1.4zM21.0,21.7h1.4v1.4h-1.4zM20.9,20.5h1.4v1.4h-1.4zM22.2,26.4h1.4v1.4h-1.4zM22.5,24.9h1.4v1.4h-1.4zM27.0,22.1h1.4v1.4h-1.4zM16.1,20.2h1.4v1.4h-1.4zM18.8,26.1h1.4v1.4h-1.4zM25.9,25.1h1.4v1.4h-1.4zM17.5,27.3h1.4v1.4h-1.4zM22.1,29.2h1.4v1.4h-1.4zM25.6,28.5h1.4v1.4h-1.4zM19.2,28.7h1.4v1.4h-1.4z"/>
<path id="p_UL_1" d="M19.0,18.5h1.4v1.4h-1.4zM24.2,29.2h1.4v1.4h-1.4zM24.1,21.7h1.4v1.4h-1.4zM28.2,24.6h1.4v1.4h-1.4zM21.7,23.1h1.4v1.4h-1.4zM29.3,21.7h1.4v1.4h-1.4zM24.3,31.8h1.4v1.4h-1.4zM17.4,18.4h1.4v1.4h-1.4zM27.9,23.2h1.4v1.4h-1.4zM24.8,27.2h1.4v1.4h-1.4zM17.0,27.8h1.4v1.4h-1.4zM20.2,28.9h1.4v1.4h-1.4zM16.3,19.8h1.4v1.4h-1.4zM27.5,25.7h1.4v1.4h-1.4zM28.3,28.3h1.4v1.4h-1.4zM21.3,29.1h1.4v1.4h-1.4zM17.1,21.1h1.4v1.4h-1.4zM23.7,19.5h1.4v1.4h-1.4zM29.8,22.3h1.4v1.4h-1.4zM22.5,18.6h1.4v1.4h-1.4zM29.0,26.4h1.4v1.4h-1.4zM25.5,30.0h1.4v1.4h-1.4zM22.4,22.8h1.4v1.4h-1.4zM24.7,20.4h1.4v1.4h-1.4zM26.0,23.5h1.4v1.4h-1.4zM25.9,24.0h1.4v1.4h-1.4zM29.7,27.4h1.4v1.4h-1.4zM29.0,20.6h1.4v1.4h-1.4zM19.0,18.0h1.4v1.4h-1.4zM22.3,16.7h1.4v1.4h-1.4zM27.8,24.4h1.4v1.4h-1.4zM22.4,21.6h1.4v1.4h-1.4zM18.1,28.3h1.4v1.4h-1.4zM15.3,26.8h1.4v1.4h-1.4zM29.6,30.8h1.4v1.4h-1.4z"/>
<path id="p_UL_2" d="M20.8,27.5h1.4v1.4h-1.4zM17.3,26.9h1.4v1.4h-1.4zM16.7,24.7h1.4v1.4h-1.4zM30.1,28.6h1.4v1.4h-1.4zM29.4,27.0h1.4v1.4h-1.4zM26.9,24.2h1.4v1.4h-1.4zM20.3,24.0h1.4v1.4h-1.4zM30.2,30.9h1.4v1.4h-1.4zM22.2,17.0h1.4v1.4h-1.4zM21.7,19.3h1.4v1.4h-1.4zM22.6,24.3h1.4v1.4h-1.4zM21.8,24.3h1.4v1.4h-1.4zM24.0,18.2h1.4v1.4h-1.4zM29.8,25.2h1.4v1.4h-1.4zM29.0,23.1h1.4v1.4h-1.4zM24.1,28.9h1.4v1.4h-1.4zM18.7,28.2h1.4v1.4h-1.4zM21.4,22.6h1.4v1.4h-1.4zM16.5,20.7h1.4v1.4h-1.4zM22.1,24.9h1.4v1.4h-1.4zM21.9,27.7h1.4v1.4h-1.4zM24.8,18.3h1.4v1.4h-1.4zM19.6,19.3h1.4v1.4h-1.4zM26.7,28.0h1.4v1.4h-1.4zM29.1,29.5h1.4v1.4h-1.4zM17.5,25.1h1.4v1.4h-1.4zM29.6,21.3h1.4v1.4h-1.4zM20.8,27.1h1.4v1.4h-1.4zM21.0,21.3h1.4v1.4h-1.4zM15.9,19.7h1.4v1.4h-1.4zM16.1,20.6h1.4v1.4h-1.4zM22.8,21.4h1.4v1.4h-1.4zM15.9,21.2h1.4v1.4h-1.4zM16.6,28.4h1.4v1.4h-1.4z"/>
<path id="p_UL_3" d="M21.7,16.7h1.4v1.4h-1.4zM27.2,18.7h1.4v1.4h-1.4zM24.8,26.3h1.4v1.4h-1.4zM23.5,20.6h1.4v1.4h-1.4zM27.0,16.5h1.4v1.4h-1.4zM25.8,21.1h1.4v1.4h-1.4zM23.7,29.4h1.4v1.4h-1.4zM15.6,28.4h1.4v1.4h-1.4zM28.6,19.0h1.4v1.4h-1.4zM29.8,27.8h1.4v1.4h-1.4zM29.0,24.1h1.4v1.4h-1.4zM22.1,20.6h1.4v1.4h-1.4zM19.0,21.2h1.4v1.4h-1.4zM26.7,25.0h1.4v1.4h-1.4zM19.1,24.5h1.4v1.4h-1.4zM27.2,29.9h1.4v1.4h-1.4zM17.2,18.8h1.4v1.4h-1.4zM20.1,18.4h1.4v1.4h-1.4zM26.1,26.2h1.4v1.4h-1.4zM16.1,28.4h1.4v1.4h-1.4zM28.3,16.9h1.4v1.4h-1.4zM26.9,19.1h1.4v1.4h-1.4zM27.8,28.1h1.4v1.4h-1.4zM24.6,22.2h1.4v1.4h-1.4zM17.5,20.8h1.4v1.4h-1.4zM20.6,22.7h1.4v1.4h-1.4zM28.6,30.2h1.4v1.4h-1.4zM20.8,24.7h1.4v1.4h-1.4zM19.3,23.6h1.4v1.4h-1.4zM22.1,26.7h1.4v1.4h-1.4zM18.2,24.1h1.4v1.4h-1.4zM27.6,30.0h1.4v1.4h-1.4zM23.3,19.6h1.4v1.4h-1.4zM29.1,16.3h1.4v1.4h-1.4zM23.4,21.6h1.4v1.4h-1.4z"/>
<filter id="bl" x="-5%" y="-5%" width="110%" height="110%"><feGaussianBlur stdDeviation="0.5"/></filter>
<linearGradient id="lg" x1="0" y1="1" x2="0" y2="0"><stop offset="0" stop-color="#d9d9d9"/><stop offset="0.3" stop-color="#ecbcb0"/><stop offset="0.55" stop-color="#f29a80"/><stop offset="0.8" stop-color="#ee5a3e"/><stop offset="1" stop-color="#e4281c"/></linearGradient>
</defs>
<rect x="0" y="0" width="520" height="312" fill="#fff"/>
<rect x="0.5" y="0.5" width="519" height="311" fill="none" stroke="#6a6a6a" stroke-width="1"/>
<text x="6.6" y="15.8" font-family="Liberation Sans, sans-serif" font-size="11.2" font-weight="bold" fill="#111">F</text>
<text x="6.6" y="187.4" font-family="Liberation Sans, sans-serif" font-size="11.2" font-weight="bold" fill="#111">G</text>
<g transform="translate(38.5,33)">
<g filter="url(#bl)">
<use href="#blob" fill="#eebbb0" opacity="0.15"/>
<use href="#p_CEN_0" fill="#e5dcdb"/>
<use href="#p_CEN_1" fill="#e9cec9"/>
<use href="#p_CEN_2" fill="#edc0b7"/>
<use href="#p_CEN_3" fill="#f0af9f"/>
<use href="#p_ELL_0" fill="#e7d6d4"/>
<use href="#p_ELL_1" fill="#ebc8c2"/>
<use href="#p_ELL_2" fill="#eeb9ae"/>
<use href="#p_ELL_3" fill="#f0a795"/>
<use href="#p_LT_0" fill="#e6d9d6"/>
<use href="#p_LT_1" fill="#eacbc4"/>
<use href="#p_LT_2" fill="#eebcb2"/>
<use href="#p_LT_3" fill="#f0aa99"/>
<use href="#p_RE_0" fill="#eaccc6"/>
<use href="#p_RE_1" fill="#eebeb4"/>
<use href="#p_RE_2" fill="#f0ac9b"/>
<use href="#p_RE_3" fill="#f29a82"/>
<use href="#p_RL_0" fill="#efb3a5"/>
<use href="#p_RL_1" fill="#f1a18c"/>
<use href="#p_RL_2" fill="#f18a71"/>
<use href="#p_RL_3" fill="#ef6d53"/>
<use href="#p_TR_0" fill="#e5dfde"/>
<use href="#p_TR_1" fill="#e9d1cc"/>
<use href="#p_TR_2" fill="#edc3ba"/>
<use href="#p_TR_3" fill="#efb2a3"/>
<use href="#p_UB_0" fill="#e9d1cc"/>
<use href="#p_UB_1" fill="#edc3ba"/>
<use href="#p_UB_2" fill="#efb2a3"/>
<use href="#p_UB_3" fill="#f1a08a"/>
<use href="#p_UL_0" fill="#ebcac3"/>
<use href="#p_UL_1" fill="#eebbb0"/>
<use href="#p_UL_2" fill="#f0a997"/>
<use href="#p_UL_3" fill="#f2967e"/>
<rect x="3.0" y="50.0" width="2.8" height="1.3" fill="#ecc4bc"/>
</g>
<ellipse cx="26.05" cy="42.35" rx="7.0" ry="10.9" transform="rotate(28 26.05 42.35)" fill="none" stroke="#2a2a2a" stroke-width="0.85"/>
<rect x="0" y="0" width="68.5" height="56" fill="none" stroke="#111" stroke-width="1.2"/>
</g>
<text transform="translate(72.8,28.2) scale(0.9,1)" font-family="Liberation Sans, sans-serif" font-size="8.8" font-style="italic" text-anchor="middle" fill="#111" stroke="#111" stroke-width="0.12">Tal1</text>
<g transform="translate(121.3,33)">
<g filter="url(#bl)">
<use href="#blob" fill="#e9d0ca" opacity="0.15"/>
<use href="#p_CEN_0" fill="#e4e1e1"/>
<use href="#p_CEN_1" fill="#e5dcdb"/>
<use href="#p_CEN_2" fill="#e9cec9"/>
<use href="#p_CEN_3" fill="#edc0b7"/>
<use href="#p_ELL_0" fill="#e4e1e1"/>
<use href="#p_ELL_1" fill="#e5dcdb"/>
<use href="#p_ELL_2" fill="#e9cec9"/>
<use href="#p_ELL_3" fill="#edc0b7"/>
<use href="#p_LT_0" fill="#e4e1e1"/>
<use href="#p_LT_1" fill="#e5dcdb"/>
<use href="#p_LT_2" fill="#e9cec9"/>
<use href="#p_LT_3" fill="#edc0b7"/>
<use href="#p_RE_0" fill="#ecc5bd"/>
<use href="#p_RE_1" fill="#efb5a8"/>
<use href="#p_RE_2" fill="#f1a38f"/>
<use href="#p_RE_3" fill="#f18c74"/>
<use href="#p_RL_0" fill="#f29d86"/>
<use href="#p_RL_1" fill="#f1826a"/>
<use href="#p_RL_2" fill="#ef664c"/>
<use href="#p_RL_3" fill="#ea4733"/>
<use href="#p_TR_0" fill="#e4e1e1"/>
<use href="#p_TR_1" fill="#e5dcdb"/>
<use href="#p_TR_2" fill="#e9cec9"/>
<use href="#p_TR_3" fill="#edc0b7"/>
<use href="#p_UB_0" fill="#e4e1e1"/>
<use href="#p_UB_1" fill="#e7d6d4"/>
<use href="#p_UB_2" fill="#ebc8c2"/>
<use href="#p_UB_3" fill="#eeb9ae"/>
<use href="#p_UL_0" fill="#e4e1e1"/>
<use href="#p_UL_1" fill="#e6dad8"/>
<use href="#p_UL_2" fill="#eaccc6"/>
<use href="#p_UL_3" fill="#eebeb4"/>
<rect x="3.0" y="50.0" width="2.8" height="1.3" fill="#e7d5d2"/>
</g>
<ellipse cx="27.15" cy="42.35" rx="7.0" ry="10.9" transform="rotate(28 27.15 42.35)" fill="none" stroke="#2a2a2a" stroke-width="0.85"/>
<rect x="0" y="0" width="68.5" height="56" fill="none" stroke="#111" stroke-width="1.2"/>
</g>
<text transform="translate(155.6,28.2) scale(0.9,1)" font-family="Liberation Sans, sans-serif" font-size="8.8" font-style="italic" text-anchor="middle" fill="#111" stroke="#111" stroke-width="0.12">Runx1</text>
<g transform="translate(204.1,33)">
<g filter="url(#bl)">
<use href="#blob" fill="#f0af9f" opacity="0.15"/>
<use href="#p_CEN_0" fill="#e6d9d6"/>
<use href="#p_CEN_1" fill="#eacbc4"/>
<use href="#p_CEN_2" fill="#eebcb2"/>
<use href="#p_CEN_3" fill="#f0aa99"/>
<use href="#p_ELL_0" fill="#e4e1e1"/>
<use href="#p_ELL_1" fill="#e7d6d4"/>
<use href="#p_ELL_2" fill="#ebc8c2"/>
<use href="#p_ELL_3" fill="#eeb9ae"/>
<use href="#p_LT_0" fill="#e4e1e1"/>
<use href="#p_LT_1" fill="#e5dcdb"/>
<use href="#p_LT_2" fill="#e9cec9"/>
<use href="#p_LT_3" fill="#edc0b7"/>
<use href="#p_RE_0" fill="#f0af9f"/>
<use href="#p_RE_1" fill="#f29d86"/>
<use href="#p_RE_2" fill="#f1826a"/>
<use href="#p_RE_3" fill="#ef664c"/>
<use href="#p_RL_0" fill="#f29a82"/>
<use href="#p_RL_1" fill="#f07e65"/>
<use href="#p_RL_2" fill="#ee6147"/>
<use href="#p_RL_3" fill="#e9422f"/>
<use href="#p_TR_0" fill="#edc2b8"/>
<use href="#p_TR_1" fill="#efb0a1"/>
<use href="#p_TR_2" fill="#f19e88"/>
<use href="#p_TR_3" fill="#f1856c"/>
<use href="#p_UB_0" fill="#ebc7c0"/>
<use href="#p_UB_1" fill="#efb8ac"/>
<use href="#p_UB_2" fill="#f1a693"/>
<use href="#p_UB_3" fill="#f29179"/>
<use href="#p_UL_0" fill="#ecc5bd"/>
<use href="#p_UL_1" fill="#efb5a8"/>
<use href="#p_UL_2" fill="#f1a38f"/>
<use href="#p_UL_3" fill="#f18c74"/>
<rect x="3.0" y="50.0" width="2.8" height="1.3" fill="#e7d5d2"/>
</g>
<ellipse cx="25.7" cy="42.2" rx="7.0" ry="10.9" transform="rotate(28 25.7 42.2)" fill="none" stroke="#2a2a2a" stroke-width="0.85"/>
<rect x="0" y="0" width="68.5" height="56" fill="none" stroke="#111" stroke-width="1.2"/>
</g>
<text transform="translate(238.3,28.2) scale(0.9,1)" font-family="Liberation Sans, sans-serif" font-size="8.8" font-style="italic" text-anchor="middle" fill="#111" stroke="#111" stroke-width="0.12">Foxo3</text>
<g transform="translate(286.9,33)">
<g filter="url(#bl)">
<use href="#blob" fill="#efb6aa" opacity="0.15"/>
<use href="#p_CEN_0" fill="#e6d9d6"/>
<use href="#p_CEN_1" fill="#eacbc4"/>
<use href="#p_CEN_2" fill="#eebcb2"/>
<use href="#p_CEN_3" fill="#f0aa99"/>
<use href="#p_ELL_0" fill="#e6d9d6"/>
<use href="#p_ELL_1" fill="#eacbc4"/>
<use href="#p_ELL_2" fill="#eebcb2"/>
<use href="#p_ELL_3" fill="#f0aa99"/>
<use href="#p_LT_0" fill="#e4e1e1"/>
<use href="#p_LT_1" fill="#e7d6d4"/>
<use href="#p_LT_2" fill="#ebc8c2"/>
<use href="#p_LT_3" fill="#eeb9ae"/>
<use href="#p_RE_0" fill="#ecc5bd"/>
<use href="#p_RE_1" fill="#efb5a8"/>
<use href="#p_RE_2" fill="#f1a38f"/>
<use href="#p_RE_3" fill="#f18c74"/>
<use href="#p_RL_0" fill="#efb8ac"/>
<use href="#p_RL_1" fill="#f1a693"/>
<use href="#p_RL_2" fill="#f29179"/>
<use href="#p_RL_3" fill="#f0745b"/>
<use href="#p_TR_0" fill="#e8d3cf"/>
<use href="#p_TR_1" fill="#ecc5bd"/>
<use href="#p_TR_2" fill="#efb5a8"/>
<use href="#p_TR_3" fill="#f1a38f"/>
<use href="#p_UB_0" fill="#eacdc8"/>
<use href="#p_UB_1" fill="#eebfb6"/>
<use href="#p_UB_2" fill="#f0ad9d"/>
<use href="#p_UB_3" fill="#f29b84"/>
<use href="#p_UL_0" fill="#eebfb6"/>
<use href="#p_UL_1" fill="#f0ad9d"/>
<use href="#p_UL_2" fill="#f29b84"/>
<use href="#p_UL_3" fill="#f08067"/>
<rect x="3.0" y="50.0" width="2.8" height="1.3" fill="#e9d0ca"/>
</g>
<ellipse cx="27.55" cy="41.7" rx="7.0" ry="10.9" transform="rotate(28 27.55 41.7)" fill="none" stroke="#2a2a2a" stroke-width="0.85"/>
<rect x="0" y="0" width="68.5" height="56" fill="none" stroke="#111" stroke-width="1.2"/>
</g>
<text transform="translate(321.1,28.2) scale(0.9,1)" font-family="Liberation Sans, sans-serif" font-size="8.8" font-style="italic" text-anchor="middle" fill="#111" stroke="#111" stroke-width="0.12">E2f2</text>
<g transform="translate(369.7,33)">
<g filter="url(#bl)">
<use href="#blob" fill="#ecc4bc" opacity="0.15"/>
<use href="#p_CEN_0" fill="#e5dfde"/>
<use href="#p_CEN_1" fill="#e9d1cc"/>
<use href="#p_CEN_2" fill="#edc3ba"/>
<use href="#p_CEN_3" fill="#efb2a3"/>
<use href="#p_ELL_0" fill="#e5dfde"/>
<use href="#p_ELL_1" fill="#e9d1cc"/>
<use href="#p_ELL_2" fill="#edc3ba"/>
<use href="#p_ELL_3" fill="#efb2a3"/>
<use href="#p_LT_0" fill="#e4e1e1"/>
<use href="#p_LT_1" fill="#e7d6d4"/>
<use href="#p_LT_2" fill="#ebc8c2"/>
<use href="#p_LT_3" fill="#eeb9ae"/>
<use href="#p_RE_0" fill="#e9d1cc"/>
<use href="#p_RE_1" fill="#edc3ba"/>
<use href="#p_RE_2" fill="#efb2a3"/>
<use href="#p_RE_3" fill="#f1a08a"/>
<use href="#p_RL_0" fill="#efb8ac"/>
<use href="#p_RL_1" fill="#f1a693"/>
<use href="#p_RL_2" fill="#f29179"/>
<use href="#p_RL_3" fill="#f0745b"/>
<use href="#p_TR_0" fill="#e4e1e1"/>
<use href="#p_TR_1" fill="#e7d6d4"/>
<use href="#p_TR_2" fill="#ebc8c2"/>
<use href="#p_TR_3" fill="#eeb9ae"/>
<use href="#p_UB_0" fill="#e6d9d6"/>
<use href="#p_UB_1" fill="#eacbc4"/>
<use href="#p_UB_2" fill="#eebcb2"/>
<use href="#p_UB_3" fill="#f0aa99"/>
<use href="#p_UL_0" fill="#eebfb6"/>
<use href="#p_UL_1" fill="#f0ad9d"/>
<use href="#p_UL_2" fill="#f29b84"/>
<use href="#p_UL_3" fill="#f08067"/>
<rect x="3.0" y="50.0" width="2.8" height="1.3" fill="#e9d0ca"/>
</g>
<ellipse cx="26.85" cy="41.45" rx="7.0" ry="10.9" transform="rotate(28 26.85 41.45)" fill="none" stroke="#2a2a2a" stroke-width="0.85"/>
<rect x="0" y="0" width="68.5" height="56" fill="none" stroke="#111" stroke-width="1.2"/>
</g>
<text transform="translate(403.9,28.2) scale(0.9,1)" font-family="Liberation Sans, sans-serif" font-size="8.8" font-style="italic" text-anchor="middle" fill="#111" stroke="#111" stroke-width="0.12">Klf3</text>
<g transform="translate(38.5,107.5)">
<g filter="url(#bl)">
<use href="#blob" fill="#f0a795" opacity="0.15"/>
<use href="#p_CEN_0" fill="#e6d9d6"/>
<use href="#p_CEN_1" fill="#eacbc4"/>
<use href="#p_CEN_2" fill="#eebcb2"/>
<use href="#p_CEN_3" fill="#f0aa99"/>
<use href="#p_ELL_0" fill="#e9cec9"/>
<use href="#p_ELL_1" fill="#edc0b7"/>
<use href="#p_ELL_2" fill="#f0af9f"/>
<use href="#p_ELL_3" fill="#f29d86"/>
<use href="#p_LT_0" fill="#eaccc6"/>
<use href="#p_LT_1" fill="#eebeb4"/>
<use href="#p_LT_2" fill="#f0ac9b"/>
<use href="#p_LT_3" fill="#f29a82"/>
<use href="#p_RE_0" fill="#eebeb4"/>
<use href="#p_RE_1" fill="#f0ac9b"/>
<use href="#p_RE_2" fill="#f29a82"/>
<use href="#p_RE_3" fill="#f07e65"/>
<use href="#p_RL_0" fill="#efb2a3"/>
<use href="#p_RL_1" fill="#f1a08a"/>
<use href="#p_RL_2" fill="#f1876f"/>
<use href="#p_RL_3" fill="#ef6a51"/>
<use href="#p_TR_0" fill="#ecc5bd"/>
<use href="#p_TR_1" fill="#efb5a8"/>
<use href="#p_TR_2" fill="#f1a38f"/>
<use href="#p_TR_3" fill="#f18c74"/>
<use href="#p_UB_0" fill="#edc2b8"/>
<use href="#p_UB_1" fill="#efb0a1"/>
<use href="#p_UB_2" fill="#f19e88"/>
<use href="#p_UB_3" fill="#f1856c"/>
<use href="#p_UL_0" fill="#eebeb4"/>
<use href="#p_UL_1" fill="#f0ac9b"/>
<use href="#p_UL_2" fill="#f29a82"/>
<use href="#p_UL_3" fill="#f07e65"/>
<rect x="3.0" y="50.0" width="2.8" height="1.3" fill="#efb5a8"/>
</g>
<ellipse cx="25.95" cy="41.95" rx="7.0" ry="10.9" transform="rotate(28 25.95 41.95)" fill="none" stroke="#2a2a2a" stroke-width="0.85"/>
<rect x="0" y="0" width="68.5" height="56" fill="none" stroke="#111" stroke-width="1.2"/>
</g>
<text transform="translate(72.8,102.7) scale(0.9,1)" font-family="Liberation Sans, sans-serif" font-size="8.8" font-style="italic" text-anchor="middle" fill="#111" stroke="#111" stroke-width="0.12">Lmo2</text>
<g transform="translate(121.3,107.5)">
<g filter="url(#bl)">
<use href="#blob" fill="#f0af9f" opacity="0.15"/>
<use href="#p_CEN_0" fill="#e6d9d6"/>
<use href="#p_CEN_1" fill="#eacbc4"/>
<use href="#p_CEN_2" fill="#eebcb2"/>
<use href="#p_CEN_3" fill="#f0aa99"/>
<use href="#p_ELL_0" fill="#e5dfde"/>
<use href="#p_ELL_1" fill="#e9d1cc"/>
<use href="#p_ELL_2" fill="#edc3ba"/>
<use href="#p_ELL_3" fill="#efb2a3"/>
<use href="#p_LT_0" fill="#e4e1e1"/>
<use href="#p_LT_1" fill="#e7d6d4"/>
<use href="#p_LT_2" fill="#ebc8c2"/>
<use href="#p_LT_3" fill="#eeb9ae"/>
<use href="#p_RE_0" fill="#efb8ac"/>
<use href="#p_RE_1" fill="#f1a693"/>
<use href="#p_RE_2" fill="#f29179"/>
<use href="#p_RE_3" fill="#f0745b"/>
<use href="#p_RL_0" fill="#f1a08a"/>
<use href="#p_RL_1" fill="#f1876f"/>
<use href="#p_RL_2" fill="#ef6a51"/>
<use href="#p_RL_3" fill="#eb4c37"/>
<use href="#p_TR_0" fill="#eacdc8"/>
<use href="#p_TR_1" fill="#eebfb6"/>
<use href="#p_TR_2" fill="#f0ad9d"/>
<use href="#p_TR_3" fill="#f29b84"/>
<use href="#p_UB_0" fill="#ebc7c0"/>
<use href="#p_UB_1" fill="#efb8ac"/>
<use href="#p_UB_2" fill="#f1a693"/>
<use href="#p_UB_3" fill="#f29179"/>
<use href="#p_UL_0" fill="#eebfb6"/>
<use href="#p_UL_1" fill="#f0ad9d"/>
<use href="#p_UL_2" fill="#f29b84"/>
<use href="#p_UL_3" fill="#f08067"/>
<rect x="3.0" y="50.0" width="2.8" height="1.3" fill="#e9d0ca"/>
</g>
<ellipse cx="26.25" cy="42.05" rx="7.0" ry="10.9" transform="rotate(28 26.25 42.05)" fill="none" stroke="#2a2a2a" stroke-width="0.85"/>
<rect x="0" y="0" width="68.5" height="56" fill="none" stroke="#111" stroke-width="1.2"/>
</g>
<text transform="translate(155.6,102.7) scale(0.9,1)" font-family="Liberation Sans, sans-serif" font-size="8.8" font-style="italic" text-anchor="middle" fill="#111" stroke="#111" stroke-width="0.12">Abcb10</text>
<g transform="translate(204.1,107.5)">
<g filter="url(#bl)">
<use href="#blob" fill="#eebbb0" opacity="0.15"/>
<use href="#p_CEN_0" fill="#e4e1e1"/>
<use href="#p_CEN_1" fill="#e8d3cf"/>
<use href="#p_CEN_2" fill="#ecc5bd"/>
<use href="#p_CEN_3" fill="#efb5a8"/>
<use href="#p_ELL_0" fill="#e6d9d6"/>
<use href="#p_ELL_1" fill="#eacbc4"/>
<use href="#p_ELL_2" fill="#eebcb2"/>
<use href="#p_ELL_3" fill="#f0aa99"/>
<use href="#p_LT_0" fill="#e5dfde"/>
<use href="#p_LT_1" fill="#e9d1cc"/>
<use href="#p_LT_2" fill="#edc3ba"/>
<use href="#p_LT_3" fill="#efb2a3"/>
<use href="#p_RE_0" fill="#eaccc6"/>
<use href="#p_RE_1" fill="#eebeb4"/>
<use href="#p_RE_2" fill="#f0ac9b"/>
<use href="#p_RE_3" fill="#f29a82"/>
<use href="#p_RL_0" fill="#ebcac3"/>
<use href="#p_RL_1" fill="#eebbb0"/>
<use href="#p_RL_2" fill="#f0a997"/>
<use href="#p_RL_3" fill="#f2967e"/>
<use href="#p_TR_0" fill="#ebc7c0"/>
<use href="#p_TR_1" fill="#efb8ac"/>
<use href="#p_TR_2" fill="#f1a693"/>
<use href="#p_TR_3" fill="#f29179"/>
<use href="#p_UB_0" fill="#e9d1cc"/>
<use href="#p_UB_1" fill="#edc3ba"/>
<use href="#p_UB_2" fill="#efb2a3"/>
<use href="#p_UB_3" fill="#f1a08a"/>
<use href="#p_UL_0" fill="#e9cec9"/>
<use href="#p_UL_1" fill="#edc0b7"/>
<use href="#p_UL_2" fill="#f0af9f"/>
<use href="#p_UL_3" fill="#f29d86"/>
<rect x="3.0" y="50.0" width="2.8" height="1.3" fill="#ebcac3"/>
</g>
<ellipse cx="26.2" cy="41.95" rx="7.0" ry="10.9" transform="rotate(28 26.2 41.95)" fill="none" stroke="#2a2a2a" stroke-width="0.85"/>
<rect x="0" y="0" width="68.5" height="56" fill="none" stroke="#111" stroke-width="1.2"/>
</g>
<text transform="translate(238.3,102.7) scale(0.9,1)" font-family="Liberation Sans, sans-serif" font-size="8.8" font-style="italic" text-anchor="middle" fill="#111" stroke="#111" stroke-width="0.12">Urod</text>
<g transform="translate(286.9,107.5)">
<g filter="url(#bl)">
<use href="#blob" fill="#f1a08a" opacity="0.15"/>
<use href="#p_CEN_0" fill="#eacdc8"/>
<use href="#p_CEN_1" fill="#eebfb6"/>
<use href="#p_CEN_2" fill="#f0ad9d"/>
<use href="#p_CEN_3" fill="#f29b84"/>
<use href="#p_ELL_0" fill="#f07960"/>
<use href="#p_ELL_1" fill="#ee5c42"/>
<use href="#p_ELL_2" fill="#e83d2b"/>
<use href="#p_ELL_3" fill="#e4281c"/>
<use href="#p_LT_0" fill="#f07960"/>
<use href="#p_LT_1" fill="#ee5c42"/>
<use href="#p_LT_2" fill="#e83d2b"/>
<use href="#p_LT_3" fill="#e4281c"/>
<use href="#p_RE_0" fill="#efb3a5"/>
<use href="#p_RE_1" fill="#f1a18c"/>
<use href="#p_RE_2" fill="#f18a71"/>
<use href="#p_RE_3" fill="#ef6d53"/>
<use href="#p_RL_0" fill="#f0ac9b"/>
<use href="#p_RL_1" fill="#f29a82"/>
<use href="#p_RL_2" fill="#f07e65"/>
<use href="#p_RL_3" fill="#ee6147"/>
<use href="#p_TR_0" fill="#edc2b8"/>
<use href="#p_TR_1" fill="#efb0a1"/>
<use href="#p_TR_2" fill="#f19e88"/>
<use href="#p_TR_3" fill="#f1856c"/>
<use href="#p_UB_0" fill="#eebbb0"/>
<use href="#p_UB_1" fill="#f0a997"/>
<use href="#p_UB_2" fill="#f2967e"/>
<use href="#p_UB_3" fill="#f07960"/>
<use href="#p_UL_0" fill="#f0ac9b"/>
<use href="#p_UL_1" fill="#f29a82"/>
<use href="#p_UL_2" fill="#f07e65"/>
<use href="#p_UL_3" fill="#ee6147"/>
<rect x="3.0" y="50.0" width="2.8" height="1.3" fill="#eb4c37"/>
</g>
<ellipse cx="27.55" cy="42.2" rx="7.0" ry="10.9" transform="rotate(28 27.55 42.2)" fill="none" stroke="#2a2a2a" stroke-width="0.85"/>
<rect x="0" y="0" width="68.5" height="56" fill="none" stroke="#111" stroke-width="1.2"/>
</g>
<text transform="translate(321.1,102.7) scale(0.9,1)" font-family="Liberation Sans, sans-serif" font-size="8.8" font-style="italic" text-anchor="middle" fill="#111" stroke="#111" stroke-width="0.12">Rpl32</text>
<g transform="translate(369.7,107.5)">
<g filter="url(#bl)">
<use href="#blob" fill="#e7d5d2" opacity="0.15"/>
<use href="#p_CEN_0" fill="#e4e1e1"/>
<use href="#p_CEN_1" fill="#e4e1e1"/>
<use href="#p_CEN_2" fill="#e7d5d2"/>
<use href="#p_CEN_3" fill="#ebc7c0"/>
<use href="#p_ELL_0" fill="#ecc5bd"/>
<use href="#p_ELL_1" fill="#efb5a8"/>
<use href="#p_ELL_2" fill="#f1a38f"/>
<use href="#p_ELL_3" fill="#f18c74"/>
<use href="#p_LT_0" fill="#e4e1e1"/>
<use href="#p_LT_1" fill="#e4e1e1"/>
<use href="#p_LT_2" fill="#e7d5d2"/>
<use href="#p_LT_3" fill="#ebc7c0"/>
<use href="#p_RE_0" fill="#e4e1e1"/>
<use href="#p_RE_1" fill="#e8d3cf"/>
<use href="#p_RE_2" fill="#ecc5bd"/>
<use href="#p_RE_3" fill="#efb5a8"/>
<use href="#p_RL_0" fill="#e5dfde"/>
<use href="#p_RL_1" fill="#e9d1cc"/>
<use href="#p_RL_2" fill="#edc3ba"/>
<use href="#p_RL_3" fill="#efb2a3"/>
<use href="#p_TR_0" fill="#e4e1e1"/>
<use href="#p_TR_1" fill="#e5dcdb"/>
<use href="#p_TR_2" fill="#e9cec9"/>
<use href="#p_TR_3" fill="#edc0b7"/>
<use href="#p_UB_0" fill="#e4e1e1"/>
<use href="#p_UB_1" fill="#e5dcdb"/>
<use href="#p_UB_2" fill="#e9cec9"/>
<use href="#p_UB_3" fill="#edc0b7"/>
<use href="#p_UL_0" fill="#e4e1e1"/>
<use href="#p_UL_1" fill="#e5dfde"/>
<use href="#p_UL_2" fill="#e9d1cc"/>
<use href="#p_UL_3" fill="#edc3ba"/>
<rect x="3.0" y="50.0" width="2.8" height="1.3" fill="#e5dcdb"/>
</g>
<ellipse cx="27.2" cy="41.4" rx="7.0" ry="10.9" transform="rotate(28 27.2 41.4)" fill="none" stroke="#2a2a2a" stroke-width="0.85"/>
<rect x="0" y="0" width="68.5" height="56" fill="none" stroke="#111" stroke-width="1.2"/>
</g>
<text transform="translate(403.9,102.7) scale(0.9,1)" font-family="Liberation Sans, sans-serif" font-size="8.8" font-style="italic" text-anchor="middle" fill="#111" stroke="#111" stroke-width="0.12">Cd52</text>
<text x="447.2" y="57" font-family="Liberation Sans, sans-serif" font-size="5.95" fill="#222">Log-norm. counts</text>
<rect x="447.5" y="61.1" width="15.6" height="80.9" fill="url(#lg)"/>
<line x1="447.5" x2="450" y1="66.5" y2="66.5" stroke="#fff" stroke-width="0.7"/>
<line x1="460.6" x2="463.1" y1="66.5" y2="66.5" stroke="#fff" stroke-width="0.7"/>
<text x="466.9" y="68.6" font-family="Liberation Sans, sans-serif" font-size="5.8" fill="#222">5</text>
<line x1="447.5" x2="450" y1="83.2" y2="83.2" stroke="#fff" stroke-width="0.7"/>
<line x1="460.6" x2="463.1" y1="83.2" y2="83.2" stroke="#fff" stroke-width="0.7"/>
<text x="466.9" y="85.3" font-family="Liberation Sans, sans-serif" font-size="5.8" fill="#222">4</text>
<line x1="447.5" x2="450" y1="100.2" y2="100.2" stroke="#fff" stroke-width="0.7"/>
<line x1="460.6" x2="463.1" y1="100.2" y2="100.2" stroke="#fff" stroke-width="0.7"/>
<text x="466.9" y="102.3" font-family="Liberation Sans, sans-serif" font-size="5.8" fill="#222">3</text>
<line x1="447.5" x2="450" y1="117.3" y2="117.3" stroke="#fff" stroke-width="0.7"/>
<line x1="460.6" x2="463.1" y1="117.3" y2="117.3" stroke="#fff" stroke-width="0.7"/>
<text x="466.9" y="119.4" font-family="Liberation Sans, sans-serif" font-size="5.8" fill="#222">2</text>
<line x1="447.5" x2="450" y1="134.2" y2="134.2" stroke="#fff" stroke-width="0.7"/>
<line x1="460.6" x2="463.1" y1="134.2" y2="134.2" stroke="#fff" stroke-width="0.7"/>
<text x="466.9" y="136.3" font-family="Liberation Sans, sans-serif" font-size="5.8" fill="#222">1</text>
<text x="466.9" y="153.4" font-family="Liberation Sans, sans-serif" font-size="5.8" fill="#222">0</text>
<path d="M47.20,211.10 L48.00,218.40 L50.00,220.40 L50.90,222.40 L50.40,224.40 L49.50,225.70 L49.50,226.60 L51.70,227.30 L51.70,227.90 L42.70,227.90 L42.70,227.30 L44.90,226.60 L44.90,225.70 L44.00,224.40 L43.50,222.40 L44.40,220.40 L46.40,218.40Z" fill="#e41a1c" fill-opacity="0.11" stroke="#e41a1c" stroke-width="0.65" stroke-linejoin="round"/>
<rect x="45.90" y="222.70" width="2.6" height="4.0" fill="none" stroke="#e41a1c" stroke-width="0.45"/>
<line x1="47.20" x2="47.20" y1="211.10" y2="227.40" stroke="#e41a1c" stroke-width="0.5" stroke-opacity="0.85"/>
<path d="M42.70,224.90H46.00M48.40,224.90H51.70" stroke="#1a1a1a" stroke-width="0.75"/>
<path d="M62.05,208.20 L62.65,222.90 L63.55,224.40 L66.58,225.70 L65.05,226.60 L68.05,227.30 L68.05,227.90 L56.05,227.90 L56.05,227.30 L59.05,226.60 L57.52,225.70 L60.55,224.40 L61.45,222.90Z" fill="#f59a30" fill-opacity="0.11" stroke="#f59a30" stroke-width="0.65" stroke-linejoin="round"/>
<line x1="62.05" x2="62.05" y1="208.20" y2="227.40" stroke="#f59a30" stroke-width="1.1" stroke-opacity="0.55"/>
<path d="M57.55,224.50H60.85M63.25,224.50H66.55" stroke="#1a1a1a" stroke-width="0.75"/>
<path d="M76.90,208.30 L77.90,213.90 L78.50,215.90 L78.50,222.90 L80.90,224.90 L81.97,225.70 L79.90,226.60 L82.90,227.30 L82.90,227.90 L70.90,227.90 L70.90,227.30 L73.90,226.60 L71.83,225.70 L72.90,224.90 L75.30,222.90 L75.30,215.90 L75.90,213.90Z" fill="#4daf4a" fill-opacity="0.11" stroke="#4daf4a" stroke-width="0.65" stroke-linejoin="round"/>
<rect x="75.60" y="221.50" width="2.6" height="4.0" fill="none" stroke="#4daf4a" stroke-width="0.45"/>
<line x1="76.90" x2="76.90" y1="208.30" y2="227.40" stroke="#4daf4a" stroke-width="0.5" stroke-opacity="0.85"/>
<path d="M72.40,223.70H75.70M78.10,223.70H81.40" stroke="#1a1a1a" stroke-width="0.75"/>
<path d="M91.75,209.30 L92.55,217.90 L95.25,219.90 L97.25,221.90 L96.25,223.90 L94.45,225.70 L94.45,226.60 L96.75,227.30 L96.75,227.90 L86.75,227.90 L86.75,227.30 L89.05,226.60 L89.05,225.70 L87.25,223.90 L86.25,221.90 L88.25,219.90 L90.95,217.90Z" fill="#377eb8" fill-opacity="0.11" stroke="#377eb8" stroke-width="0.65" stroke-linejoin="round"/>
<rect x="90.45" y="221.20" width="2.6" height="4.0" fill="none" stroke="#377eb8" stroke-width="0.45"/>
<line x1="91.75" x2="91.75" y1="209.30" y2="227.40" stroke="#377eb8" stroke-width="0.5" stroke-opacity="0.85"/>
<path d="M85.40,223.40H90.55M92.95,223.40H98.10" stroke="#1a1a1a" stroke-width="0.75"/>
<path d="M106.60,209.30 L107.10,222.90 L108.60,224.90 L108.87,225.70 L108.87,226.60 L111.60,227.30 L111.60,227.90 L101.60,227.90 L101.60,227.30 L104.33,226.60 L104.33,225.70 L104.60,224.90 L106.10,222.90Z" fill="#984ea3" fill-opacity="0.11" stroke="#984ea3" stroke-width="0.65" stroke-linejoin="round"/>
<line x1="106.60" x2="106.60" y1="209.30" y2="227.40" stroke="#984ea3" stroke-width="0.5" stroke-opacity="0.85"/>
<path d="M102.10,224.90H105.40M107.80,224.90H111.10" stroke="#1a1a1a" stroke-width="0.75"/>
<path d="M38.5,205.0 L38.5,227.9 L114.8,227.9" fill="none" stroke="#111" stroke-width="0.8"/>
<line x1="35.5" x2="38.5" y1="227.3" y2="227.3" stroke="#222" stroke-width="0.8"/>
<text x="31.9" y="229.1" font-family="Liberation Sans, sans-serif" font-size="5.1" text-anchor="end" fill="#2a2a2a">0</text>
<line x1="35.5" x2="38.5" y1="217.4" y2="217.4" stroke="#222" stroke-width="0.8"/>
<text x="31.9" y="219.2" font-family="Liberation Sans, sans-serif" font-size="5.1" text-anchor="end" fill="#2a2a2a">2</text>
<line x1="35.5" x2="38.5" y1="207.5" y2="207.5" stroke="#222" stroke-width="0.8"/>
<text x="31.9" y="209.3" font-family="Liberation Sans, sans-serif" font-size="5.1" text-anchor="end" fill="#2a2a2a">4</text>
<text transform="translate(76.7,199.9) scale(0.9,1)" font-family="Liberation Sans, sans-serif" font-size="8.8" font-style="italic" text-anchor="middle" fill="#111" stroke="#111" stroke-width="0.12">Tal1</text>
<path d="M147.00,214.30 L148.00,217.90 L149.50,221.90 L150.93,225.70 L150.00,226.60 L152.00,227.30 L152.00,227.90 L142.00,227.90 L142.00,227.30 L144.00,226.60 L143.07,225.70 L144.50,221.90 L146.00,217.90Z" fill="#e41a1c" fill-opacity="0.11" stroke="#e41a1c" stroke-width="0.65" stroke-linejoin="round"/>
<rect x="145.70" y="222.70" width="2.6" height="4.0" fill="none" stroke="#e41a1c" stroke-width="0.45"/>
<line x1="147.00" x2="147.00" y1="214.30" y2="227.40" stroke="#e41a1c" stroke-width="0.5" stroke-opacity="0.85"/>
<path d="M141.78,224.90H145.80M148.20,224.90H152.22" stroke="#1a1a1a" stroke-width="0.75"/>
<path d="M161.85,209.70 L162.45,223.90 L163.35,225.40 L164.40,225.70 L164.40,226.60 L166.85,227.30 L166.85,227.90 L156.85,227.90 L156.85,227.30 L159.30,226.60 L159.30,225.70 L160.35,225.40 L161.25,223.90Z" fill="#f59a30" fill-opacity="0.11" stroke="#f59a30" stroke-width="0.65" stroke-linejoin="round"/>
<line x1="161.85" x2="161.85" y1="209.70" y2="227.40" stroke="#f59a30" stroke-width="1.1" stroke-opacity="0.55"/>
<path d="M157.35,225.50H160.65M163.05,225.50H166.35" stroke="#1a1a1a" stroke-width="0.75"/>
<path d="M176.70,207.40 L177.70,212.90 L178.70,214.90 L178.70,223.90 L180.50,225.70 L179.70,226.60 L182.70,227.30 L182.70,227.90 L170.70,227.90 L170.70,227.30 L173.70,226.60 L172.90,225.70 L174.70,223.90 L174.70,214.90 L175.70,212.90Z" fill="#4daf4a" fill-opacity="0.11" stroke="#4daf4a" stroke-width="0.65" stroke-linejoin="round"/>
<line x1="176.70" x2="176.70" y1="207.40" y2="227.40" stroke="#4daf4a" stroke-width="0.5" stroke-opacity="0.85"/>
<path d="M172.20,223.90H175.50M177.90,223.90H181.20" stroke="#1a1a1a" stroke-width="0.75"/>
<path d="M191.55,213.90 L192.15,223.90 L193.05,225.40 L193.80,225.70 L193.80,226.60 L195.55,227.30 L195.55,227.90 L187.55,227.90 L187.55,227.30 L189.30,226.60 L189.30,225.70 L190.05,225.40 L190.95,223.90Z" fill="#377eb8" fill-opacity="0.11" stroke="#377eb8" stroke-width="0.65" stroke-linejoin="round"/>
<line x1="191.55" x2="191.55" y1="213.90" y2="227.40" stroke="#377eb8" stroke-width="0.5" stroke-opacity="0.85"/>
<path d="M187.05,224.70H190.35M192.75,224.70H196.05" stroke="#1a1a1a" stroke-width="0.75"/>
<path d="M206.40,207.70 L207.20,217.90 L207.90,219.90 L207.90,224.90 L209.23,225.70 L209.23,226.60 L210.40,227.30 L210.40,227.90 L202.40,227.90 L202.40,227.30 L203.57,226.60 L203.57,225.70 L204.90,224.90 L204.90,219.90 L205.60,217.90Z" fill="#984ea3" fill-opacity="0.11" stroke="#984ea3" stroke-width="0.65" stroke-linejoin="round"/>
<line x1="206.40" x2="206.40" y1="207.70" y2="227.40" stroke="#984ea3" stroke-width="0.5" stroke-opacity="0.85"/>
<path d="M201.90,224.40H205.20M207.60,224.40H210.90" stroke="#1a1a1a" stroke-width="0.75"/>
<path d="M138.3,205.0 L138.3,227.9 L214.60000000000002,227.9" fill="none" stroke="#111" stroke-width="0.8"/>
<line x1="135.3" x2="138.3" y1="227.2" y2="227.2" stroke="#222" stroke-width="0.8"/>
<text x="131.7" y="229.0" font-family="Liberation Sans, sans-serif" font-size="5.1" text-anchor="end" fill="#2a2a2a">0.0</text>
<line x1="135.3" x2="138.3" y1="216.8" y2="216.8" stroke="#222" stroke-width="0.8"/>
<text x="131.7" y="218.6" font-family="Liberation Sans, sans-serif" font-size="5.1" text-anchor="end" fill="#2a2a2a">2.5</text>
<text transform="translate(176.5,199.9) scale(0.9,1)" font-family="Liberation Sans, sans-serif" font-size="8.8" font-style="italic" text-anchor="middle" fill="#111" stroke="#111" stroke-width="0.12">Runx1</text>
<path d="M246.20,215.90 L247.20,218.90 L248.70,222.90 L250.10,225.70 L249.20,226.60 L252.20,227.30 L252.20,227.90 L240.20,227.90 L240.20,227.30 L243.20,226.60 L242.30,225.70 L243.70,222.90 L245.20,218.90Z" fill="#e41a1c" fill-opacity="0.11" stroke="#e41a1c" stroke-width="0.65" stroke-linejoin="round"/>
<rect x="244.90" y="222.70" width="2.6" height="4.0" fill="none" stroke="#e41a1c" stroke-width="0.45"/>
<line x1="246.20" x2="246.20" y1="215.90" y2="227.40" stroke="#e41a1c" stroke-width="0.5" stroke-opacity="0.85"/>
<path d="M241.10,224.90H245.00M247.40,224.90H251.30" stroke="#1a1a1a" stroke-width="0.75"/>
<path d="M261.05,207.70 L261.85,223.90 L262.55,225.40 L263.90,225.70 L263.90,226.60 L267.05,227.30 L267.05,227.90 L255.05,227.90 L255.05,227.30 L258.20,226.60 L258.20,225.70 L259.55,225.40 L260.25,223.90Z" fill="#f59a30" fill-opacity="0.11" stroke="#f59a30" stroke-width="0.65" stroke-linejoin="round"/>
<line x1="261.05" x2="261.05" y1="207.70" y2="227.40" stroke="#f59a30" stroke-width="1.1" stroke-opacity="0.55"/>
<path d="M256.55,224.90H259.85M262.25,224.90H265.55" stroke="#1a1a1a" stroke-width="0.75"/>
<path d="M275.90,209.70 L276.90,211.40 L278.50,212.90 L279.20,214.90 L278.50,216.90 L277.90,218.40 L278.10,220.40 L279.90,221.90 L280.90,222.90 L279.40,223.90 L278.90,225.40 L278.90,225.70 L278.90,226.60 L279.90,227.30 L279.90,227.90 L271.90,227.90 L271.90,227.30 L272.90,226.60 L272.90,225.70 L272.90,225.40 L272.40,223.90 L270.90,222.90 L271.90,221.90 L273.70,220.40 L273.90,218.40 L273.30,216.90 L272.60,214.90 L273.30,212.90 L274.90,211.40Z" fill="#4daf4a" fill-opacity="0.11" stroke="#4daf4a" stroke-width="0.65" stroke-linejoin="round"/>
<rect x="274.60" y="220.50" width="2.6" height="4.0" fill="none" stroke="#4daf4a" stroke-width="0.45"/>
<line x1="275.90" x2="275.90" y1="209.70" y2="227.40" stroke="#4daf4a" stroke-width="0.5" stroke-opacity="0.85"/>
<path d="M269.50,222.70H274.70M277.10,222.70H282.30" stroke="#1a1a1a" stroke-width="0.75"/>
<path d="M290.75,212.70 L291.75,215.90 L293.75,218.90 L296.25,221.90 L295.75,223.90 L293.95,225.70 L293.75,226.60 L294.75,227.30 L294.75,227.90 L286.75,227.90 L286.75,227.30 L287.75,226.60 L287.55,225.70 L285.75,223.90 L285.25,221.90 L287.75,218.90 L289.75,215.90Z" fill="#377eb8" fill-opacity="0.11" stroke="#377eb8" stroke-width="0.65" stroke-linejoin="round"/>
<rect x="289.45" y="220.70" width="2.6" height="4.0" fill="none" stroke="#377eb8" stroke-width="0.45"/>
<line x1="290.75" x2="290.75" y1="212.70" y2="227.40" stroke="#377eb8" stroke-width="0.5" stroke-opacity="0.85"/>
<path d="M283.90,222.90H289.55M291.95,222.90H297.60" stroke="#1a1a1a" stroke-width="0.75"/>
<path d="M305.60,208.20 L306.40,209.90 L308.40,212.90 L310.40,215.90 L311.80,218.90 L311.80,220.90 L310.80,222.90 L309.40,224.40 L308.60,225.40 L308.60,225.70 L308.60,226.60 L308.60,227.30 L308.60,227.90 L302.60,227.90 L302.60,227.30 L302.60,226.60 L302.60,225.70 L302.60,225.40 L301.80,224.40 L300.40,222.90 L299.40,220.90 L299.40,218.90 L300.80,215.90 L302.80,212.90 L304.80,209.90Z" fill="#984ea3" fill-opacity="0.11" stroke="#984ea3" stroke-width="0.65" stroke-linejoin="round"/>
<rect x="304.30" y="218.70" width="2.6" height="4.0" fill="none" stroke="#984ea3" stroke-width="0.45"/>
<line x1="305.60" x2="305.60" y1="208.20" y2="227.40" stroke="#984ea3" stroke-width="0.5" stroke-opacity="0.85"/>
<path d="M297.80,220.90H304.40M306.80,220.90H313.40" stroke="#1a1a1a" stroke-width="0.75"/>
<path d="M237.5,205.0 L237.5,227.9 L313.8,227.9" fill="none" stroke="#111" stroke-width="0.8"/>
<line x1="234.5" x2="237.5" y1="227.2" y2="227.2" stroke="#222" stroke-width="0.8"/>
<text x="230.9" y="229.0" font-family="Liberation Sans, sans-serif" font-size="5.1" text-anchor="end" fill="#2a2a2a">0.0</text>
<line x1="234.5" x2="237.5" y1="217.4" y2="217.4" stroke="#222" stroke-width="0.8"/>
<text x="230.9" y="219.2" font-family="Liberation Sans, sans-serif" font-size="5.1" text-anchor="end" fill="#2a2a2a">2.5</text>
<line x1="234.5" x2="237.5" y1="207.4" y2="207.4" stroke="#222" stroke-width="0.8"/>
<text x="230.9" y="209.2" font-family="Liberation Sans, sans-serif" font-size="5.1" text-anchor="end" fill="#2a2a2a">5.0</text>
<text transform="translate(275.6,199.9) scale(0.9,1)" font-family="Liberation Sans, sans-serif" font-size="8.8" font-style="italic" text-anchor="middle" fill="#111" stroke="#111" stroke-width="0.12">Foxo3</text>
<path d="M346.00,211.90 L347.00,219.90 L347.50,222.90 L347.78,225.70 L347.78,226.60 L351.00,227.30 L351.00,227.90 L341.00,227.90 L341.00,227.30 L344.22,226.60 L344.22,225.70 L344.50,222.90 L345.00,219.90Z" fill="#e41a1c" fill-opacity="0.11" stroke="#e41a1c" stroke-width="0.65" stroke-linejoin="round"/>
<line x1="346.00" x2="346.00" y1="211.90" y2="227.40" stroke="#e41a1c" stroke-width="0.5" stroke-opacity="0.85"/>
<path d="M341.50,224.90H344.80M347.20,224.90H350.50" stroke="#1a1a1a" stroke-width="0.75"/>
<path d="M360.85,208.20 L361.45,223.90 L362.35,225.40 L363.70,225.70 L363.70,226.60 L366.85,227.30 L366.85,227.90 L354.85,227.90 L354.85,227.30 L358.00,226.60 L358.00,225.70 L359.35,225.40 L360.25,223.90Z" fill="#f59a30" fill-opacity="0.11" stroke="#f59a30" stroke-width="0.65" stroke-linejoin="round"/>
<line x1="360.85" x2="360.85" y1="208.20" y2="227.40" stroke="#f59a30" stroke-width="1.1" stroke-opacity="0.55"/>
<path d="M356.35,224.90H359.65M362.05,224.90H365.35" stroke="#1a1a1a" stroke-width="0.75"/>
<path d="M375.70,207.40 L377.20,210.90 L379.70,213.90 L378.20,216.90 L378.70,219.90 L380.70,221.90 L378.70,224.90 L378.70,225.70 L378.70,226.60 L379.70,227.30 L379.70,227.90 L371.70,227.90 L371.70,227.30 L372.70,226.60 L372.70,225.70 L372.70,224.90 L370.70,221.90 L372.70,219.90 L373.20,216.90 L371.70,213.90 L374.20,210.90Z" fill="#4daf4a" fill-opacity="0.11" stroke="#4daf4a" stroke-width="0.65" stroke-linejoin="round"/>
<rect x="374.40" y="219.70" width="2.6" height="4.0" fill="none" stroke="#4daf4a" stroke-width="0.45"/>
<line x1="375.70" x2="375.70" y1="207.40" y2="227.40" stroke="#4daf4a" stroke-width="0.5" stroke-opacity="0.85"/>
<path d="M369.10,221.90H374.50M376.90,221.90H382.30" stroke="#1a1a1a" stroke-width="0.75"/>
<path d="M390.55,208.90 L391.55,213.90 L394.55,216.90 L397.05,219.90 L395.55,222.90 L393.55,224.90 L393.55,225.70 L393.55,226.60 L393.55,227.30 L393.55,227.90 L387.55,227.90 L387.55,227.30 L387.55,226.60 L387.55,225.70 L387.55,224.90 L385.55,222.90 L384.05,219.90 L386.55,216.90 L389.55,213.90Z" fill="#377eb8" fill-opacity="0.11" stroke="#377eb8" stroke-width="0.65" stroke-linejoin="round"/>
<rect x="389.25" y="219.00" width="2.6" height="4.0" fill="none" stroke="#377eb8" stroke-width="0.45"/>
<line x1="390.55" x2="390.55" y1="208.90" y2="227.40" stroke="#377eb8" stroke-width="0.5" stroke-opacity="0.85"/>
<path d="M383.10,221.20H389.35M391.75,221.20H398.00" stroke="#1a1a1a" stroke-width="0.75"/>
<path d="M405.40,208.20 L406.90,212.90 L408.90,215.90 L408.40,218.90 L407.40,221.90 L408.40,224.90 L408.80,225.70 L408.40,226.60 L409.40,227.30 L409.40,227.90 L401.40,227.90 L401.40,227.30 L402.40,226.60 L402.00,225.70 L402.40,224.90 L403.40,221.90 L402.40,218.90 L401.90,215.90 L403.90,212.90Z" fill="#984ea3" fill-opacity="0.11" stroke="#984ea3" stroke-width="0.65" stroke-linejoin="round"/>
<rect x="404.10" y="218.70" width="2.6" height="4.0" fill="none" stroke="#984ea3" stroke-width="0.45"/>
<line x1="405.40" x2="405.40" y1="208.20" y2="227.40" stroke="#984ea3" stroke-width="0.5" stroke-opacity="0.85"/>
<path d="M400.90,220.90H404.20M406.60,220.90H409.90" stroke="#1a1a1a" stroke-width="0.75"/>
<path d="M337.3,205.0 L337.3,227.9 L413.6,227.9" fill="none" stroke="#111" stroke-width="0.8"/>
<line x1="334.3" x2="337.3" y1="227.5" y2="227.5" stroke="#222" stroke-width="0.8"/>
<text x="330.7" y="229.3" font-family="Liberation Sans, sans-serif" font-size="5.1" text-anchor="end" fill="#2a2a2a">0</text>
<line x1="334.3" x2="337.3" y1="218.2" y2="218.2" stroke="#222" stroke-width="0.8"/>
<text x="330.7" y="220.0" font-family="Liberation Sans, sans-serif" font-size="5.1" text-anchor="end" fill="#2a2a2a">2</text>
<line x1="334.3" x2="337.3" y1="208.7" y2="208.7" stroke="#222" stroke-width="0.8"/>
<text x="330.7" y="210.5" font-family="Liberation Sans, sans-serif" font-size="5.1" text-anchor="end" fill="#2a2a2a">4</text>
<text transform="translate(375.4,199.9) scale(0.9,1)" font-family="Liberation Sans, sans-serif" font-size="8.8" font-style="italic" text-anchor="middle" fill="#111" stroke="#111" stroke-width="0.12">E2f2</text>
<path d="M445.50,211.20 L446.50,215.90 L448.00,220.90 L449.00,224.90 L450.00,225.70 L448.50,226.60 L451.50,227.30 L451.50,227.90 L439.50,227.90 L439.50,227.30 L442.50,226.60 L441.00,225.70 L442.00,224.90 L443.00,220.90 L444.50,215.90Z" fill="#e41a1c" fill-opacity="0.11" stroke="#e41a1c" stroke-width="0.65" stroke-linejoin="round"/>
<rect x="444.20" y="222.20" width="2.6" height="4.0" fill="none" stroke="#e41a1c" stroke-width="0.45"/>
<line x1="445.50" x2="445.50" y1="211.20" y2="227.40" stroke="#e41a1c" stroke-width="0.5" stroke-opacity="0.85"/>
<path d="M440.52,224.40H444.30M446.70,224.40H450.48" stroke="#1a1a1a" stroke-width="0.75"/>
<path d="M460.35,207.70 L460.95,223.90 L461.85,225.40 L463.20,225.70 L463.20,226.60 L466.35,227.30 L466.35,227.90 L454.35,227.90 L454.35,227.30 L457.50,226.60 L457.50,225.70 L458.85,225.40 L459.75,223.90Z" fill="#f59a30" fill-opacity="0.11" stroke="#f59a30" stroke-width="0.65" stroke-linejoin="round"/>
<line x1="460.35" x2="460.35" y1="207.70" y2="227.40" stroke="#f59a30" stroke-width="1.1" stroke-opacity="0.55"/>
<path d="M455.85,224.90H459.15M461.55,224.90H464.85" stroke="#1a1a1a" stroke-width="0.75"/>
<path d="M475.20,208.20 L476.20,211.90 L477.70,213.90 L477.70,223.90 L479.95,225.70 L478.20,226.60 L481.20,227.30 L481.20,227.90 L469.20,227.90 L469.20,227.30 L472.20,226.60 L470.45,225.70 L472.70,223.90 L472.70,213.90 L474.20,211.90Z" fill="#4daf4a" fill-opacity="0.11" stroke="#4daf4a" stroke-width="0.65" stroke-linejoin="round"/>
<rect x="473.90" y="220.20" width="2.6" height="4.0" fill="none" stroke="#4daf4a" stroke-width="0.45"/>
<line x1="475.20" x2="475.20" y1="208.20" y2="227.40" stroke="#4daf4a" stroke-width="0.5" stroke-opacity="0.85"/>
<path d="M470.70,222.40H474.00M476.40,222.40H479.70" stroke="#1a1a1a" stroke-width="0.75"/>
<path d="M490.05,208.20 L491.05,214.90 L494.05,216.90 L496.05,219.90 L495.55,222.90 L493.05,224.90 L493.05,225.70 L493.05,226.60 L493.05,227.30 L493.05,227.90 L487.05,227.90 L487.05,227.30 L487.05,226.60 L487.05,225.70 L487.05,224.90 L484.55,222.90 L484.05,219.90 L486.05,216.90 L489.05,214.90Z" fill="#377eb8" fill-opacity="0.11" stroke="#377eb8" stroke-width="0.65" stroke-linejoin="round"/>
<rect x="488.75" y="219.70" width="2.6" height="4.0" fill="none" stroke="#377eb8" stroke-width="0.45"/>
<line x1="490.05" x2="490.05" y1="208.20" y2="227.40" stroke="#377eb8" stroke-width="0.5" stroke-opacity="0.85"/>
<path d="M482.78,221.90H488.85M491.25,221.90H497.32" stroke="#1a1a1a" stroke-width="0.75"/>
<path d="M504.90,207.40 L505.70,215.90 L506.40,217.90 L506.40,224.90 L507.20,225.70 L507.20,226.60 L507.90,227.30 L507.90,227.90 L501.90,227.90 L501.90,227.30 L502.60,226.60 L502.60,225.70 L503.40,224.90 L503.40,217.90 L504.10,215.90Z" fill="#984ea3" fill-opacity="0.11" stroke="#984ea3" stroke-width="0.65" stroke-linejoin="round"/>
<line x1="504.90" x2="504.90" y1="207.40" y2="227.40" stroke="#984ea3" stroke-width="0.5" stroke-opacity="0.85"/>
<path d="M500.40,224.40H503.70M506.10,224.40H509.40" stroke="#1a1a1a" stroke-width="0.75"/>
<path d="M436.8,205.0 L436.8,227.9 L513.1,227.9" fill="none" stroke="#111" stroke-width="0.8"/>
<line x1="433.8" x2="436.8" y1="227.5" y2="227.5" stroke="#222" stroke-width="0.8"/>
<text x="430.2" y="229.3" font-family="Liberation Sans, sans-serif" font-size="5.1" text-anchor="end" fill="#2a2a2a">0</text>
<line x1="433.8" x2="436.8" y1="218.2" y2="218.2" stroke="#222" stroke-width="0.8"/>
<text x="430.2" y="220.0" font-family="Liberation Sans, sans-serif" font-size="5.1" text-anchor="end" fill="#2a2a2a">2</text>
<line x1="433.8" x2="436.8" y1="208.7" y2="208.7" stroke="#222" stroke-width="0.8"/>
<text x="430.2" y="210.5" font-family="Liberation Sans, sans-serif" font-size="5.1" text-anchor="end" fill="#2a2a2a">4</text>
<text transform="translate(474.9,199.9) scale(0.9,1)" font-family="Liberation Sans, sans-serif" font-size="8.8" font-style="italic" text-anchor="middle" fill="#111" stroke="#111" stroke-width="0.12">Klf3</text>
<path d="M47.20,262.00 L48.20,266.00 L51.70,269.00 L53.20,271.00 L51.70,273.00 L49.20,276.00 L49.60,276.80 L49.60,277.70 L51.20,278.40 L51.20,279.00 L43.20,279.00 L43.20,278.40 L44.80,277.70 L44.80,276.80 L45.20,276.00 L42.70,273.00 L41.20,271.00 L42.70,269.00 L46.20,266.00Z" fill="#e41a1c" fill-opacity="0.11" stroke="#e41a1c" stroke-width="0.65" stroke-linejoin="round"/>
<rect x="45.90" y="270.80" width="2.6" height="4.0" fill="none" stroke="#e41a1c" stroke-width="0.45"/>
<line x1="47.20" x2="47.20" y1="262.00" y2="278.50" stroke="#e41a1c" stroke-width="0.5" stroke-opacity="0.85"/>
<path d="M41.10,273.00H46.00M48.40,273.00H53.30" stroke="#1a1a1a" stroke-width="0.75"/>
<line x1="47.20" x2="47.20" y1="279.00" y2="281.60" stroke="#222" stroke-width="0.6"/>
<path d="M62.05,259.00 L62.65,274.00 L64.05,275.50 L67.52,276.80 L65.05,277.70 L68.05,278.40 L68.05,279.00 L56.05,279.00 L56.05,278.40 L59.05,277.70 L56.58,276.80 L60.05,275.50 L61.45,274.00Z" fill="#f59a30" fill-opacity="0.11" stroke="#f59a30" stroke-width="0.65" stroke-linejoin="round"/>
<line x1="62.05" x2="62.05" y1="259.00" y2="278.50" stroke="#f59a30" stroke-width="1.1" stroke-opacity="0.55"/>
<path d="M57.55,275.00H60.85M63.25,275.00H66.55" stroke="#1a1a1a" stroke-width="0.75"/>
<line x1="62.05" x2="62.05" y1="279.00" y2="281.60" stroke="#222" stroke-width="0.6"/>
<path d="M76.90,258.50 L77.90,263.00 L80.40,267.00 L79.40,270.00 L78.90,272.00 L80.90,275.00 L81.90,276.00 L81.10,276.80 L79.90,277.70 L80.90,278.40 L80.90,279.00 L72.90,279.00 L72.90,278.40 L73.90,277.70 L72.70,276.80 L71.90,276.00 L72.90,275.00 L74.90,272.00 L74.40,270.00 L73.40,267.00 L75.90,263.00Z" fill="#4daf4a" fill-opacity="0.11" stroke="#4daf4a" stroke-width="0.65" stroke-linejoin="round"/>
<rect x="75.60" y="270.80" width="2.6" height="4.0" fill="none" stroke="#4daf4a" stroke-width="0.45"/>
<line x1="76.90" x2="76.90" y1="258.50" y2="278.50" stroke="#4daf4a" stroke-width="0.5" stroke-opacity="0.85"/>
<path d="M72.40,273.00H75.70M78.10,273.00H81.40" stroke="#1a1a1a" stroke-width="0.75"/>
<line x1="76.90" x2="76.90" y1="279.00" y2="281.60" stroke="#222" stroke-width="0.6"/>
<path d="M91.75,262.00 L92.75,266.00 L96.25,269.00 L97.75,271.00 L96.75,274.00 L94.25,276.00 L94.45,276.80 L94.45,277.70 L94.75,278.40 L94.75,279.00 L88.75,279.00 L88.75,278.40 L89.05,277.70 L89.05,276.80 L89.25,276.00 L86.75,274.00 L85.75,271.00 L87.25,269.00 L90.75,266.00Z" fill="#377eb8" fill-opacity="0.11" stroke="#377eb8" stroke-width="0.65" stroke-linejoin="round"/>
<rect x="90.45" y="269.80" width="2.6" height="4.0" fill="none" stroke="#377eb8" stroke-width="0.45"/>
<line x1="91.75" x2="91.75" y1="262.00" y2="278.50" stroke="#377eb8" stroke-width="0.5" stroke-opacity="0.85"/>
<path d="M84.48,272.00H90.55M92.95,272.00H99.02" stroke="#1a1a1a" stroke-width="0.75"/>
<line x1="91.75" x2="91.75" y1="279.00" y2="281.60" stroke="#222" stroke-width="0.6"/>
<path d="M106.60,259.40 L107.60,263.00 L111.10,268.00 L110.60,271.00 L108.60,274.00 L108.60,276.00 L109.00,276.80 L109.00,277.70 L109.60,278.40 L109.60,279.00 L103.60,279.00 L103.60,278.40 L104.20,277.70 L104.20,276.80 L104.60,276.00 L104.60,274.00 L102.60,271.00 L102.10,268.00 L105.60,263.00Z" fill="#984ea3" fill-opacity="0.11" stroke="#984ea3" stroke-width="0.65" stroke-linejoin="round"/>
<rect x="105.30" y="269.80" width="2.6" height="4.0" fill="none" stroke="#984ea3" stroke-width="0.45"/>
<line x1="106.60" x2="106.60" y1="259.40" y2="278.50" stroke="#984ea3" stroke-width="0.5" stroke-opacity="0.85"/>
<path d="M101.67,272.00H105.40M107.80,272.00H111.53" stroke="#1a1a1a" stroke-width="0.75"/>
<line x1="106.60" x2="106.60" y1="279.00" y2="281.60" stroke="#222" stroke-width="0.6"/>
<path d="M38.5,257.0 L38.5,279.0 L114.8,279.0" fill="none" stroke="#111" stroke-width="0.8"/>
<line x1="35.5" x2="38.5" y1="278.4" y2="278.4" stroke="#222" stroke-width="0.8"/>
<text x="31.9" y="280.2" font-family="Liberation Sans, sans-serif" font-size="5.1" text-anchor="end" fill="#2a2a2a">0</text>
<line x1="35.5" x2="38.5" y1="268.8" y2="268.8" stroke="#222" stroke-width="0.8"/>
<text x="31.9" y="270.6" font-family="Liberation Sans, sans-serif" font-size="5.1" text-anchor="end" fill="#2a2a2a">2</text>
<line x1="35.5" x2="38.5" y1="259.0" y2="259.0" stroke="#222" stroke-width="0.8"/>
<text x="31.9" y="260.8" font-family="Liberation Sans, sans-serif" font-size="5.1" text-anchor="end" fill="#2a2a2a">4</text>
<text transform="translate(76.7,246.8) scale(0.9,1)" font-family="Liberation Sans, sans-serif" font-size="8.8" font-style="italic" text-anchor="middle" fill="#111" stroke="#111" stroke-width="0.12">Lmo2</text>
<text transform="translate(50.80,289.00) rotate(-45) scale(0.92,1)" font-family="Liberation Sans, sans-serif" font-size="6.3" text-anchor="end" fill="#222">Group 1</text>
<text transform="translate(65.65,289.00) rotate(-45) scale(0.92,1)" font-family="Liberation Sans, sans-serif" font-size="6.3" text-anchor="end" fill="#222">Group 2</text>
<text transform="translate(80.50,289.00) rotate(-45) scale(0.92,1)" font-family="Liberation Sans, sans-serif" font-size="6.3" text-anchor="end" fill="#222">Group 3</text>
<text transform="translate(95.35,289.00) rotate(-45) scale(0.92,1)" font-family="Liberation Sans, sans-serif" font-size="6.3" text-anchor="end" fill="#222">Group 4</text>
<text transform="translate(110.20,289.00) rotate(-45) scale(0.92,1)" font-family="Liberation Sans, sans-serif" font-size="6.3" text-anchor="end" fill="#222">Group 5</text>
<path d="M147.00,264.00 L148.00,269.00 L150.00,272.00 L149.00,274.00 L149.50,276.00 L150.50,276.80 L150.00,277.70 L152.00,278.40 L152.00,279.00 L142.00,279.00 L142.00,278.40 L144.00,277.70 L143.50,276.80 L144.50,276.00 L145.00,274.00 L144.00,272.00 L146.00,269.00Z" fill="#e41a1c" fill-opacity="0.11" stroke="#e41a1c" stroke-width="0.65" stroke-linejoin="round"/>
<rect x="145.70" y="272.80" width="2.6" height="4.0" fill="none" stroke="#e41a1c" stroke-width="0.45"/>
<line x1="147.00" x2="147.00" y1="264.00" y2="278.50" stroke="#e41a1c" stroke-width="0.5" stroke-opacity="0.85"/>
<path d="M142.50,275.00H145.80M148.20,275.00H151.50" stroke="#1a1a1a" stroke-width="0.75"/>
<line x1="147.00" x2="147.00" y1="279.00" y2="281.60" stroke="#222" stroke-width="0.6"/>
<path d="M161.85,259.00 L162.65,263.00 L163.35,267.00 L162.85,273.00 L163.35,276.00 L165.22,276.80 L164.85,277.70 L166.85,278.40 L166.85,279.00 L156.85,279.00 L156.85,278.40 L158.85,277.70 L158.48,276.80 L160.35,276.00 L160.85,273.00 L160.35,267.00 L161.05,263.00Z" fill="#f59a30" fill-opacity="0.11" stroke="#f59a30" stroke-width="0.65" stroke-linejoin="round"/>
<line x1="161.85" x2="161.85" y1="259.00" y2="278.50" stroke="#f59a30" stroke-width="1.1" stroke-opacity="0.55"/>
<path d="M157.35,275.50H160.65M163.05,275.50H166.35" stroke="#1a1a1a" stroke-width="0.75"/>
<line x1="161.85" x2="161.85" y1="279.00" y2="281.60" stroke="#222" stroke-width="0.6"/>
<path d="M176.70,259.00 L178.20,262.00 L183.70,267.00 L181.70,270.00 L178.70,273.00 L179.70,276.00 L180.10,276.80 L179.70,277.70 L180.70,278.40 L180.70,279.00 L172.70,279.00 L172.70,278.40 L173.70,277.70 L173.30,276.80 L173.70,276.00 L174.70,273.00 L171.70,270.00 L169.70,267.00 L175.20,262.00Z" fill="#4daf4a" fill-opacity="0.11" stroke="#4daf4a" stroke-width="0.65" stroke-linejoin="round"/>
<rect x="175.40" y="269.80" width="2.6" height="4.0" fill="none" stroke="#4daf4a" stroke-width="0.45"/>
<line x1="176.70" x2="176.70" y1="259.00" y2="278.50" stroke="#4daf4a" stroke-width="0.5" stroke-opacity="0.85"/>
<path d="M172.10,272.00H175.50M177.90,272.00H181.30" stroke="#1a1a1a" stroke-width="0.75"/>
<line x1="176.70" x2="176.70" y1="279.00" y2="281.60" stroke="#222" stroke-width="0.6"/>
<path d="M191.55,262.50 L192.55,266.00 L198.05,270.00 L195.55,273.00 L194.05,276.00 L194.25,276.80 L194.25,277.70 L194.55,278.40 L194.55,279.00 L188.55,279.00 L188.55,278.40 L188.85,277.70 L188.85,276.80 L189.05,276.00 L187.55,273.00 L185.05,270.00 L190.55,266.00Z" fill="#377eb8" fill-opacity="0.11" stroke="#377eb8" stroke-width="0.65" stroke-linejoin="round"/>
<rect x="190.25" y="268.80" width="2.6" height="4.0" fill="none" stroke="#377eb8" stroke-width="0.45"/>
<line x1="191.55" x2="191.55" y1="262.50" y2="278.50" stroke="#377eb8" stroke-width="0.5" stroke-opacity="0.85"/>
<path d="M184.28,271.00H190.35M192.75,271.00H198.82" stroke="#1a1a1a" stroke-width="0.75"/>
<line x1="191.55" x2="191.55" y1="279.00" y2="281.60" stroke="#222" stroke-width="0.6"/>
<path d="M206.40,258.50 L207.40,262.00 L209.90,268.00 L209.40,271.00 L208.40,274.00 L208.90,276.00 L209.10,276.80 L209.10,277.70 L209.40,278.40 L209.40,279.00 L203.40,279.00 L203.40,278.40 L203.70,277.70 L203.70,276.80 L203.90,276.00 L204.40,274.00 L203.40,271.00 L202.90,268.00 L205.40,262.00Z" fill="#984ea3" fill-opacity="0.11" stroke="#984ea3" stroke-width="0.65" stroke-linejoin="round"/>
<rect x="205.10" y="268.80" width="2.6" height="4.0" fill="none" stroke="#984ea3" stroke-width="0.45"/>
<line x1="206.40" x2="206.40" y1="258.50" y2="278.50" stroke="#984ea3" stroke-width="0.5" stroke-opacity="0.85"/>
<path d="M201.80,271.00H205.20M207.60,271.00H211.00" stroke="#1a1a1a" stroke-width="0.75"/>
<line x1="206.40" x2="206.40" y1="279.00" y2="281.60" stroke="#222" stroke-width="0.6"/>
<path d="M138.3,257.0 L138.3,279.0 L214.60000000000002,279.0" fill="none" stroke="#111" stroke-width="0.8"/>
<line x1="135.3" x2="138.3" y1="278.2" y2="278.2" stroke="#222" stroke-width="0.8"/>
<text x="131.7" y="280.0" font-family="Liberation Sans, sans-serif" font-size="5.1" text-anchor="end" fill="#2a2a2a">0.0</text>
<line x1="135.3" x2="138.3" y1="267.6" y2="267.6" stroke="#222" stroke-width="0.8"/>
<text x="131.7" y="269.4" font-family="Liberation Sans, sans-serif" font-size="5.1" text-anchor="end" fill="#2a2a2a">2.5</text>
<text transform="translate(176.5,246.8) scale(0.9,1)" font-family="Liberation Sans, sans-serif" font-size="8.8" font-style="italic" text-anchor="middle" fill="#111" stroke="#111" stroke-width="0.12">Abcb10</text>
<text transform="translate(150.60,289.00) rotate(-45) scale(0.92,1)" font-family="Liberation Sans, sans-serif" font-size="6.3" text-anchor="end" fill="#222">Group 1</text>
<text transform="translate(165.45,289.00) rotate(-45) scale(0.92,1)" font-family="Liberation Sans, sans-serif" font-size="6.3" text-anchor="end" fill="#222">Group 2</text>
<text transform="translate(180.30,289.00) rotate(-45) scale(0.92,1)" font-family="Liberation Sans, sans-serif" font-size="6.3" text-anchor="end" fill="#222">Group 3</text>
<text transform="translate(195.15,289.00) rotate(-45) scale(0.92,1)" font-family="Liberation Sans, sans-serif" font-size="6.3" text-anchor="end" fill="#222">Group 4</text>
<text transform="translate(210.00,289.00) rotate(-45) scale(0.92,1)" font-family="Liberation Sans, sans-serif" font-size="6.3" text-anchor="end" fill="#222">Group 5</text>
<path d="M246.20,259.00 L247.20,266.00 L249.20,269.00 L250.20,271.00 L249.20,274.00 L248.20,276.00 L249.40,276.80 L249.20,277.70 L251.20,278.40 L251.20,279.00 L241.20,279.00 L241.20,278.40 L243.20,277.70 L243.00,276.80 L244.20,276.00 L243.20,274.00 L242.20,271.00 L243.20,269.00 L245.20,266.00Z" fill="#e41a1c" fill-opacity="0.11" stroke="#e41a1c" stroke-width="0.65" stroke-linejoin="round"/>
<rect x="244.90" y="271.80" width="2.6" height="4.0" fill="none" stroke="#e41a1c" stroke-width="0.45"/>
<line x1="246.20" x2="246.20" y1="259.00" y2="278.50" stroke="#e41a1c" stroke-width="0.5" stroke-opacity="0.85"/>
<path d="M241.60,274.00H245.00M247.40,274.00H250.80" stroke="#1a1a1a" stroke-width="0.75"/>
<line x1="246.20" x2="246.20" y1="279.00" y2="281.60" stroke="#222" stroke-width="0.6"/>
<path d="M261.05,257.40 L261.65,274.00 L263.05,275.50 L266.52,276.80 L264.05,277.70 L267.05,278.40 L267.05,279.00 L255.05,279.00 L255.05,278.40 L258.05,277.70 L255.58,276.80 L259.05,275.50 L260.45,274.00Z" fill="#f59a30" fill-opacity="0.11" stroke="#f59a30" stroke-width="0.65" stroke-linejoin="round"/>
<line x1="261.05" x2="261.05" y1="257.40" y2="278.50" stroke="#f59a30" stroke-width="1.1" stroke-opacity="0.55"/>
<path d="M256.55,275.00H259.85M262.25,275.00H265.55" stroke="#1a1a1a" stroke-width="0.75"/>
<line x1="261.05" x2="261.05" y1="279.00" y2="281.60" stroke="#222" stroke-width="0.6"/>
<path d="M275.90,258.50 L276.70,270.00 L277.90,272.00 L277.90,275.00 L279.90,276.50 L280.30,276.80 L278.90,277.70 L281.90,278.40 L281.90,279.00 L269.90,279.00 L269.90,278.40 L272.90,277.70 L271.50,276.80 L271.90,276.50 L273.90,275.00 L273.90,272.00 L275.10,270.00Z" fill="#4daf4a" fill-opacity="0.11" stroke="#4daf4a" stroke-width="0.65" stroke-linejoin="round"/>
<line x1="275.90" x2="275.90" y1="258.50" y2="278.50" stroke="#4daf4a" stroke-width="0.5" stroke-opacity="0.85"/>
<path d="M271.40,275.00H274.70M277.10,275.00H280.40" stroke="#1a1a1a" stroke-width="0.75"/>
<line x1="275.90" x2="275.90" y1="279.00" y2="281.60" stroke="#222" stroke-width="0.6"/>
<path d="M290.75,258.20 L291.75,265.00 L294.75,268.00 L296.75,270.00 L295.25,273.00 L292.75,276.00 L293.15,276.80 L293.15,277.70 L293.75,278.40 L293.75,279.00 L287.75,279.00 L287.75,278.40 L288.35,277.70 L288.35,276.80 L288.75,276.00 L286.25,273.00 L284.75,270.00 L286.75,268.00 L289.75,265.00Z" fill="#377eb8" fill-opacity="0.11" stroke="#377eb8" stroke-width="0.65" stroke-linejoin="round"/>
<rect x="289.45" y="269.80" width="2.6" height="4.0" fill="none" stroke="#377eb8" stroke-width="0.45"/>
<line x1="290.75" x2="290.75" y1="258.20" y2="278.50" stroke="#377eb8" stroke-width="0.5" stroke-opacity="0.85"/>
<path d="M284.15,272.00H289.55M291.95,272.00H297.35" stroke="#1a1a1a" stroke-width="0.75"/>
<line x1="290.75" x2="290.75" y1="279.00" y2="281.60" stroke="#222" stroke-width="0.6"/>
<path d="M305.60,258.50 L306.60,265.00 L309.10,268.00 L310.10,270.00 L308.60,273.00 L307.60,276.00 L308.00,276.80 L308.00,277.70 L308.60,278.40 L308.60,279.00 L302.60,279.00 L302.60,278.40 L303.20,277.70 L303.20,276.80 L303.60,276.00 L302.60,273.00 L301.10,270.00 L302.10,268.00 L304.60,265.00Z" fill="#984ea3" fill-opacity="0.11" stroke="#984ea3" stroke-width="0.65" stroke-linejoin="round"/>
<rect x="304.30" y="269.80" width="2.6" height="4.0" fill="none" stroke="#984ea3" stroke-width="0.45"/>
<line x1="305.60" x2="305.60" y1="258.50" y2="278.50" stroke="#984ea3" stroke-width="0.5" stroke-opacity="0.85"/>
<path d="M300.50,272.00H304.40M306.80,272.00H310.70" stroke="#1a1a1a" stroke-width="0.75"/>
<line x1="305.60" x2="305.60" y1="279.00" y2="281.60" stroke="#222" stroke-width="0.6"/>
<path d="M237.5,257.0 L237.5,279.0 L313.8,279.0" fill="none" stroke="#111" stroke-width="0.8"/>
<line x1="234.5" x2="237.5" y1="278.5" y2="278.5" stroke="#222" stroke-width="0.8"/>
<text x="230.9" y="280.3" font-family="Liberation Sans, sans-serif" font-size="5.1" text-anchor="end" fill="#2a2a2a">0</text>
<line x1="234.5" x2="237.5" y1="267.6" y2="267.6" stroke="#222" stroke-width="0.8"/>
<text x="230.9" y="269.4" font-family="Liberation Sans, sans-serif" font-size="5.1" text-anchor="end" fill="#2a2a2a">2</text>
<text transform="translate(275.6,246.8) scale(0.9,1)" font-family="Liberation Sans, sans-serif" font-size="8.8" font-style="italic" text-anchor="middle" fill="#111" stroke="#111" stroke-width="0.12">Urod</text>
<text transform="translate(249.80,289.00) rotate(-45) scale(0.92,1)" font-family="Liberation Sans, sans-serif" font-size="6.3" text-anchor="end" fill="#222">Group 1</text>
<text transform="translate(264.65,289.00) rotate(-45) scale(0.92,1)" font-family="Liberation Sans, sans-serif" font-size="6.3" text-anchor="end" fill="#222">Group 2</text>
<text transform="translate(279.50,289.00) rotate(-45) scale(0.92,1)" font-family="Liberation Sans, sans-serif" font-size="6.3" text-anchor="end" fill="#222">Group 3</text>
<text transform="translate(294.35,289.00) rotate(-45) scale(0.92,1)" font-family="Liberation Sans, sans-serif" font-size="6.3" text-anchor="end" fill="#222">Group 4</text>
<text transform="translate(309.20,289.00) rotate(-45) scale(0.92,1)" font-family="Liberation Sans, sans-serif" font-size="6.3" text-anchor="end" fill="#222">Group 5</text>
<path d="M346.00,258.20 L347.00,261.00 L351.00,263.00 L352.50,264.00 L350.00,265.50 L347.00,267.00 L347.00,276.00 L347.80,276.80 L347.80,277.70 L349.00,278.40 L349.00,279.00 L343.00,279.00 L343.00,278.40 L344.20,277.70 L344.20,276.80 L345.00,276.00 L345.00,267.00 L342.00,265.50 L339.50,264.00 L341.00,263.00 L345.00,261.00Z" fill="#e41a1c" fill-opacity="0.11" stroke="#e41a1c" stroke-width="0.65" stroke-linejoin="round"/>
<rect x="344.70" y="261.80" width="2.6" height="4.0" fill="none" stroke="#e41a1c" stroke-width="0.45"/>
<line x1="346.00" x2="346.00" y1="258.20" y2="278.50" stroke="#e41a1c" stroke-width="0.5" stroke-opacity="0.85"/>
<path d="M337.90,264.00H344.80M347.20,264.00H354.10" stroke="#1a1a1a" stroke-width="0.75"/>
<line x1="346.00" x2="346.00" y1="279.00" y2="281.60" stroke="#222" stroke-width="0.6"/>
<path d="M360.85,259.00 L361.85,261.00 L367.85,266.00 L364.85,270.00 L362.85,274.00 L362.85,276.00 L363.65,276.80 L363.65,277.70 L364.85,278.40 L364.85,279.00 L356.85,279.00 L356.85,278.40 L358.05,277.70 L358.05,276.80 L358.85,276.00 L358.85,274.00 L356.85,270.00 L353.85,266.00 L359.85,261.00Z" fill="#f59a30" fill-opacity="0.11" stroke="#f59a30" stroke-width="0.65" stroke-linejoin="round"/>
<rect x="359.55" y="264.80" width="2.6" height="4.0" fill="none" stroke="#f59a30" stroke-width="0.45"/>
<line x1="360.85" x2="360.85" y1="259.00" y2="278.50" stroke="#f59a30" stroke-width="1.1" stroke-opacity="0.55"/>
<path d="M353.00,267.00H359.65M362.05,267.00H368.70" stroke="#1a1a1a" stroke-width="0.75"/>
<line x1="360.85" x2="360.85" y1="279.00" y2="281.60" stroke="#222" stroke-width="0.6"/>
<path d="M375.70,261.50 L376.70,265.00 L380.70,270.00 L378.70,273.00 L377.70,275.00 L380.40,276.80 L378.70,277.70 L380.70,278.40 L380.70,279.00 L370.70,279.00 L370.70,278.40 L372.70,277.70 L371.00,276.80 L373.70,275.00 L372.70,273.00 L370.70,270.00 L374.70,265.00Z" fill="#4daf4a" fill-opacity="0.11" stroke="#4daf4a" stroke-width="0.65" stroke-linejoin="round"/>
<rect x="374.40" y="268.80" width="2.6" height="4.0" fill="none" stroke="#4daf4a" stroke-width="0.45"/>
<line x1="375.70" x2="375.70" y1="261.50" y2="278.50" stroke="#4daf4a" stroke-width="0.5" stroke-opacity="0.85"/>
<path d="M369.77,271.00H374.50M376.90,271.00H381.63" stroke="#1a1a1a" stroke-width="0.75"/>
<line x1="375.70" x2="375.70" y1="279.00" y2="281.60" stroke="#222" stroke-width="0.6"/>
<path d="M390.55,261.50 L392.05,265.00 L395.55,269.00 L396.05,273.00 L396.05,276.00 L396.85,276.80 L393.55,277.70 L394.55,278.40 L394.55,279.00 L386.55,279.00 L386.55,278.40 L387.55,277.70 L384.25,276.80 L385.05,276.00 L385.05,273.00 L385.55,269.00 L389.05,265.00Z" fill="#377eb8" fill-opacity="0.11" stroke="#377eb8" stroke-width="0.65" stroke-linejoin="round"/>
<rect x="389.25" y="269.80" width="2.6" height="4.0" fill="none" stroke="#377eb8" stroke-width="0.45"/>
<line x1="390.55" x2="390.55" y1="261.50" y2="278.50" stroke="#377eb8" stroke-width="0.5" stroke-opacity="0.85"/>
<path d="M383.57,272.00H389.35M391.75,272.00H397.53" stroke="#1a1a1a" stroke-width="0.75"/>
<line x1="390.55" x2="390.55" y1="279.00" y2="281.60" stroke="#222" stroke-width="0.6"/>
<path d="M405.40,262.00 L406.40,267.00 L408.40,271.00 L407.40,274.00 L408.33,276.80 L408.33,277.70 L410.40,278.40 L410.40,279.00 L400.40,279.00 L400.40,278.40 L402.47,277.70 L402.47,276.80 L403.40,274.00 L402.40,271.00 L404.40,267.00Z" fill="#984ea3" fill-opacity="0.11" stroke="#984ea3" stroke-width="0.65" stroke-linejoin="round"/>
<rect x="404.10" y="270.80" width="2.6" height="4.0" fill="none" stroke="#984ea3" stroke-width="0.45"/>
<line x1="405.40" x2="405.40" y1="262.00" y2="278.50" stroke="#984ea3" stroke-width="0.5" stroke-opacity="0.85"/>
<path d="M400.90,273.00H404.20M406.60,273.00H409.90" stroke="#1a1a1a" stroke-width="0.75"/>
<line x1="405.40" x2="405.40" y1="279.00" y2="281.60" stroke="#222" stroke-width="0.6"/>
<path d="M337.3,257.0 L337.3,279.0 L413.6,279.0" fill="none" stroke="#111" stroke-width="0.8"/>
<line x1="334.3" x2="337.3" y1="277.8" y2="277.8" stroke="#222" stroke-width="0.8"/>
<text x="330.7" y="279.6" font-family="Liberation Sans, sans-serif" font-size="5.1" text-anchor="end" fill="#2a2a2a">0.0</text>
<line x1="334.3" x2="337.3" y1="268.4" y2="268.4" stroke="#222" stroke-width="0.8"/>
<text x="330.7" y="270.2" font-family="Liberation Sans, sans-serif" font-size="5.1" text-anchor="end" fill="#2a2a2a">2.5</text>
<line x1="334.3" x2="337.3" y1="259.4" y2="259.4" stroke="#222" stroke-width="0.8"/>
<text x="330.7" y="261.2" font-family="Liberation Sans, sans-serif" font-size="5.1" text-anchor="end" fill="#2a2a2a">5.0</text>
<text transform="translate(375.4,246.8) scale(0.9,1)" font-family="Liberation Sans, sans-serif" font-size="8.8" font-style="italic" text-anchor="middle" fill="#111" stroke="#111" stroke-width="0.12">Rpl32</text>
<text transform="translate(349.60,289.00) rotate(-45) scale(0.92,1)" font-family="Liberation Sans, sans-serif" font-size="6.3" text-anchor="end" fill="#222">Group 1</text>
<text transform="translate(364.45,289.00) rotate(-45) scale(0.92,1)" font-family="Liberation Sans, sans-serif" font-size="6.3" text-anchor="end" fill="#222">Group 2</text>
<text transform="translate(379.30,289.00) rotate(-45) scale(0.92,1)" font-family="Liberation Sans, sans-serif" font-size="6.3" text-anchor="end" fill="#222">Group 3</text>
<text transform="translate(394.15,289.00) rotate(-45) scale(0.92,1)" font-family="Liberation Sans, sans-serif" font-size="6.3" text-anchor="end" fill="#222">Group 4</text>
<text transform="translate(409.00,289.00) rotate(-45) scale(0.92,1)" font-family="Liberation Sans, sans-serif" font-size="6.3" text-anchor="end" fill="#222">Group 5</text>
<path d="M445.50,262.50 L446.10,276.50 L447.12,276.80 L447.12,277.70 L450.50,278.40 L450.50,279.00 L440.50,279.00 L440.50,278.40 L443.88,277.70 L443.88,276.80 L444.90,276.50Z" fill="#e41a1c" fill-opacity="0.11" stroke="#e41a1c" stroke-width="0.65" stroke-linejoin="round"/>
<line x1="445.50" x2="445.50" y1="262.50" y2="278.50" stroke="#e41a1c" stroke-width="0.5" stroke-opacity="0.85"/>
<path d="M441.00,277.50H444.30M446.70,277.50H450.00" stroke="#1a1a1a" stroke-width="0.75"/>
<line x1="445.50" x2="445.50" y1="279.00" y2="281.60" stroke="#222" stroke-width="0.6"/>
<path d="M460.35,258.70 L461.35,263.00 L462.35,267.00 L461.35,271.00 L461.35,275.00 L464.35,276.50 L464.75,276.80 L463.35,277.70 L466.35,278.40 L466.35,279.00 L454.35,279.00 L454.35,278.40 L457.35,277.70 L455.95,276.80 L456.35,276.50 L459.35,275.00 L459.35,271.00 L458.35,267.00 L459.35,263.00Z" fill="#f59a30" fill-opacity="0.11" stroke="#f59a30" stroke-width="0.65" stroke-linejoin="round"/>
<rect x="459.05" y="273.80" width="2.6" height="4.0" fill="none" stroke="#f59a30" stroke-width="0.45"/>
<line x1="460.35" x2="460.35" y1="258.70" y2="278.50" stroke="#f59a30" stroke-width="1.1" stroke-opacity="0.55"/>
<path d="M455.75,276.00H459.15M461.55,276.00H464.95" stroke="#1a1a1a" stroke-width="0.75"/>
<line x1="460.35" x2="460.35" y1="279.00" y2="281.60" stroke="#222" stroke-width="0.6"/>
<path d="M475.20,262.50 L475.80,276.00 L479.32,276.80 L478.20,277.70 L481.20,278.40 L481.20,279.00 L469.20,279.00 L469.20,278.40 L472.20,277.70 L471.08,276.80 L474.60,276.00Z" fill="#4daf4a" fill-opacity="0.11" stroke="#4daf4a" stroke-width="0.65" stroke-linejoin="round"/>
<rect x="473.90" y="274.80" width="2.6" height="4.0" fill="none" stroke="#4daf4a" stroke-width="0.45"/>
<line x1="475.20" x2="475.20" y1="262.50" y2="278.50" stroke="#4daf4a" stroke-width="0.5" stroke-opacity="0.85"/>
<path d="M469.73,277.00H474.00M476.40,277.00H480.67" stroke="#1a1a1a" stroke-width="0.75"/>
<line x1="475.20" x2="475.20" y1="279.00" y2="281.60" stroke="#222" stroke-width="0.6"/>
<path d="M490.05,262.80 L490.65,276.80 L490.65,277.70 L495.05,278.40 L495.05,279.00 L485.05,279.00 L485.05,278.40 L489.45,277.70 L489.45,276.80Z" fill="#377eb8" fill-opacity="0.11" stroke="#377eb8" stroke-width="0.65" stroke-linejoin="round"/>
<rect x="488.75" y="275.80" width="2.6" height="4.0" fill="none" stroke="#377eb8" stroke-width="0.45"/>
<line x1="490.05" x2="490.05" y1="262.80" y2="278.50" stroke="#377eb8" stroke-width="0.5" stroke-opacity="0.85"/>
<path d="M485.55,278.00H488.85M491.25,278.00H494.55" stroke="#1a1a1a" stroke-width="0.75"/>
<line x1="490.05" x2="490.05" y1="279.00" y2="281.60" stroke="#222" stroke-width="0.6"/>
<path d="M504.90,260.80 L505.50,276.50 L506.82,276.80 L506.82,277.70 L510.90,278.40 L510.90,279.00 L498.90,279.00 L498.90,278.40 L502.98,277.70 L502.98,276.80 L504.30,276.50Z" fill="#984ea3" fill-opacity="0.11" stroke="#984ea3" stroke-width="0.65" stroke-linejoin="round"/>
<line x1="504.90" x2="504.90" y1="260.80" y2="278.50" stroke="#984ea3" stroke-width="0.5" stroke-opacity="0.85"/>
<path d="M500.40,277.50H503.70M506.10,277.50H509.40" stroke="#1a1a1a" stroke-width="0.75"/>
<line x1="504.90" x2="504.90" y1="279.00" y2="281.60" stroke="#222" stroke-width="0.6"/>
<path d="M436.8,257.0 L436.8,279.0 L513.1,279.0" fill="none" stroke="#111" stroke-width="0.8"/>
<line x1="433.8" x2="436.8" y1="278.2" y2="278.2" stroke="#222" stroke-width="0.8"/>
<text x="430.2" y="280.0" font-family="Liberation Sans, sans-serif" font-size="5.1" text-anchor="end" fill="#2a2a2a">0.0</text>
<line x1="433.8" x2="436.8" y1="267.2" y2="267.2" stroke="#222" stroke-width="0.8"/>
<text x="430.2" y="269.0" font-family="Liberation Sans, sans-serif" font-size="5.1" text-anchor="end" fill="#2a2a2a">2.5</text>
<text transform="translate(474.9,246.8) scale(0.9,1)" font-family="Liberation Sans, sans-serif" font-size="8.8" font-style="italic" text-anchor="middle" fill="#111" stroke="#111" stroke-width="0.12">Cd52</text>
<text transform="translate(449.10,289.00) rotate(-45) scale(0.92,1)" font-family="Liberation Sans, sans-serif" font-size="6.3" text-anchor="end" fill="#222">Group 1</text>
<text transform="translate(463.95,289.00) rotate(-45) scale(0.92,1)" font-family="Liberation Sans, sans-serif" font-size="6.3" text-anchor="end" fill="#222">Group 2</text>
<text transform="translate(478.80,289.00) rotate(-45) scale(0.92,1)" font-family="Liberation Sans, sans-serif" font-size="6.3" text-anchor="end" fill="#222">Group 3</text>
<text transform="translate(493.65,289.00) rotate(-45) scale(0.92,1)" font-family="Liberation Sans, sans-serif" font-size="6.3" text-anchor="end" fill="#222">Group 4</text>
<text transform="translate(508.50,289.00) rotate(-45) scale(0.92,1)" font-family="Liberation Sans, sans-serif" font-size="6.3" text-anchor="end" fill="#222">Group 5</text>
<text transform="translate(23.9,242.3) rotate(-90) scale(0.91,1)" font-family="Liberation Sans, sans-serif" font-size="5.8" text-anchor="middle" fill="#222" stroke="#222" stroke-width="0.12">Log norm. counts</text>
<text x="442.2" y="256.4" font-family="Liberation Sans, sans-serif" font-size="5.95" fill="#222">Adj.<tspan font-style="italic">P</tspan> = .0004</text>
</svg>
</body></html>
